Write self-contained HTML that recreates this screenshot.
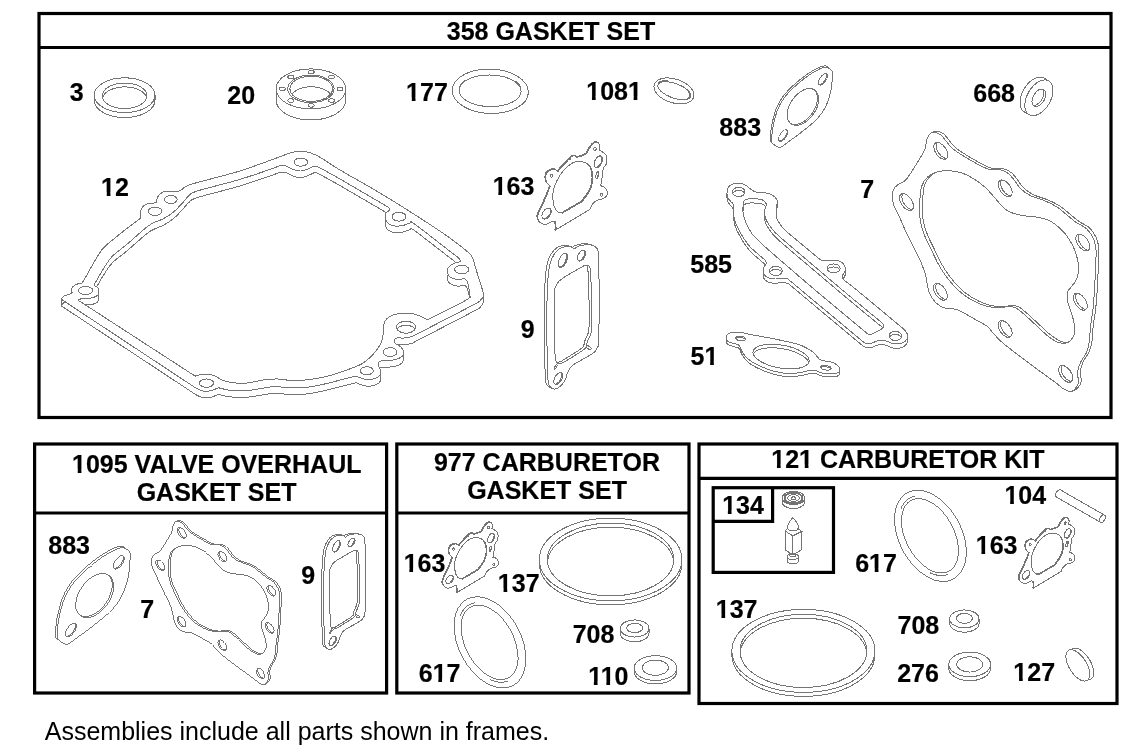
<!DOCTYPE html>
<html><head><meta charset="utf-8">
<style>
html,body{margin:0;padding:0;background:#fff;}
body{width:1134px;height:754px;overflow:hidden;font-family:"Liberation Sans",sans-serif;}
svg{display:block;stroke-width:1;filter:grayscale(1);}
.f{fill:none;stroke:#000;stroke-width:3.2;}
.t,.w{shape-rendering:crispEdges;stroke:#747474;}
.t{fill:none;}
.w{fill:#fff;}
text{font-family:"Liberation Sans",sans-serif;font-weight:bold;font-size:25px;fill:#000;stroke:#000;stroke-width:0.2px;stroke-linejoin:miter;}
text.h{font-size:25px;}
text.n{font-weight:normal;stroke:none;}
#m rect{fill:#fff;stroke:none;}
</style></head><body>
<svg width="1134" height="754" viewBox="0 0 1134 754">
<g class="f">
<rect x="39" y="13.5" width="1072" height="404"/>
<line x1="39" y1="47.5" x2="1111" y2="47.5"/>
<rect x="34.6" y="444" width="352" height="249"/>
<line x1="34.6" y1="513" x2="386.6" y2="513"/>
<rect x="396.8" y="444" width="292.2" height="249"/>
<line x1="396.8" y1="513" x2="689" y2="513"/>
<rect x="699" y="444" width="418" height="259.5"/>
<line x1="699" y1="478.4" x2="1117" y2="478.4"/>
<rect x="713.2" y="487.7" width="120.3" height="84.7"/>
<polyline points="713.2,521.4 772.6,521.4 772.6,487.7"/>
</g>
<g>
<text x="446.75" y="40">358 GASKET SET</text>
<text x="69.65" y="101">3</text>
<text x="227.25" y="104">20</text>
<text x="406.1" y="101">177</text>
<text x="586.25" y="100">1081</text>
<text x="719.35" y="136">883</text>
<text x="973.25" y="102">668</text>
<text x="101.05" y="196">12</text>
<text x="860.25" y="198">7</text>
<text x="492.65" y="195">163</text>
<text x="520.65" y="338">9</text>
<text x="690.25" y="273">585</text>
<text x="690.55" y="365">51</text>
<text text-anchor="middle" x="216.75" y="473">1095 VALVE OVERHAUL</text>
<text text-anchor="middle" x="216.55" y="501">GASKET SET</text>
<text text-anchor="middle" x="546.95" y="471">977 CARBURETOR</text>
<text text-anchor="middle" x="547.05" y="499">GASKET SET</text>
<text text-anchor="middle" x="907.85" y="468">121 CARBURETOR KIT</text>
<text x="48.25" y="554">883</text>
<text x="140.25" y="618">7</text>
<text x="301.15" y="584">9</text>
<text x="403.65" y="572">163</text>
<text x="497.85" y="592">137</text>
<text x="572.65" y="643">708</text>
<text x="418.75" y="682">617</text>
<text x="588.15" y="685">110</text>
<text x="722.15" y="514">134</text>
<text x="855.15" y="572">617</text>
<text x="1004.45" y="504">104</text>
<text x="975.75" y="554">163</text>
<text x="715.75" y="618">137</text>
<text x="897.55" y="634">708</text>
<text x="897.15" y="682">276</text>
<text x="1013.35" y="681">127</text>
<text class="n" x="44.75" y="740">Assemblies include all parts shown in frames.</text>
</g>
<g id="m"><rect x="406.50" y="97.50" width="5.3" height="4.3"/><rect x="415.50" y="97.50" width="5.2" height="4.3"/><rect x="586.65" y="96.50" width="5.3" height="4.3"/><rect x="595.65" y="96.50" width="5.2" height="4.3"/><rect x="628.35" y="96.50" width="5.3" height="4.3"/><rect x="637.35" y="96.50" width="5.2" height="4.3"/><rect x="101.45" y="192.50" width="5.3" height="4.3"/><rect x="110.45" y="192.50" width="5.2" height="4.3"/><rect x="493.05" y="191.50" width="5.3" height="4.3"/><rect x="502.05" y="191.50" width="5.2" height="4.3"/><rect x="704.84" y="361.50" width="5.3" height="4.3"/><rect x="713.84" y="361.50" width="5.2" height="4.3"/><rect x="72.43" y="469.50" width="5.3" height="4.3"/><rect x="81.43" y="469.50" width="5.2" height="4.3"/><rect x="771.65" y="464.50" width="5.3" height="4.3"/><rect x="780.65" y="464.50" width="5.2" height="4.3"/><rect x="799.45" y="464.50" width="5.3" height="4.3"/><rect x="808.45" y="464.50" width="5.2" height="4.3"/><rect x="404.05" y="568.50" width="5.3" height="4.3"/><rect x="413.05" y="568.50" width="5.2" height="4.3"/><rect x="498.25" y="588.50" width="5.3" height="4.3"/><rect x="507.25" y="588.50" width="5.2" height="4.3"/><rect x="433.04" y="678.50" width="5.3" height="4.3"/><rect x="442.04" y="678.50" width="5.2" height="4.3"/><rect x="588.55" y="681.50" width="5.3" height="4.3"/><rect x="597.55" y="681.50" width="5.2" height="4.3"/><rect x="601.07" y="681.50" width="5.3" height="4.3"/><rect x="610.07" y="681.50" width="5.2" height="4.3"/><rect x="722.55" y="510.50" width="5.3" height="4.3"/><rect x="731.55" y="510.50" width="5.2" height="4.3"/><rect x="869.44" y="568.50" width="5.3" height="4.3"/><rect x="878.44" y="568.50" width="5.2" height="4.3"/><rect x="1004.85" y="500.50" width="5.3" height="4.3"/><rect x="1013.85" y="500.50" width="5.2" height="4.3"/><rect x="976.15" y="550.50" width="5.3" height="4.3"/><rect x="985.15" y="550.50" width="5.2" height="4.3"/><rect x="716.15" y="614.50" width="5.3" height="4.3"/><rect x="725.15" y="614.50" width="5.2" height="4.3"/><rect x="1013.75" y="677.50" width="5.3" height="4.3"/><rect x="1022.75" y="677.50" width="5.2" height="4.3"/></g>
<ellipse class="t" cx="124.6" cy="95.2" rx="30.4" ry="17.4"/><path class="t" d="M94.2,95.2 L94.2,100.2 A30.4,17.4 0 0 0 124.6,117.6 A30.4,17.4 0 0 0 155,100.2 L155,95.2"/><ellipse class="t" cx="124.6" cy="95.8" rx="22.3" ry="12.8"/><path class="t" d="M102.56,97.75 A22.3,12.8 0 0 1 146.64,97.75"/><ellipse class="t" cx="310.9" cy="88.9" rx="34.8" ry="20"/><path class="t" d="M276.1,88.9 L276.1,100 A34.8,20 0 0 0 310.9,120 A34.8,20 0 0 0 345.7,100 L345.7,88.9"/><ellipse class="t" cx="310.9" cy="88.8" rx="23.2" ry="13.8"/><ellipse class="t" cx="311.2" cy="88.8" rx="21.3" ry="12.6"/><path class="t" d="M291.9,94.08 L292.98,92.87 L294.27,91.75 L295.77,90.72 L297.44,89.78 L299.27,88.96 L301.25,88.26 L303.34,87.69 L305.52,87.26 L307.76,86.97 L310.05,86.82 L312.35,86.82 L314.64,86.97 L316.88,87.26 L319.06,87.69 L321.15,88.26 L323.13,88.96 L324.96,89.78 L326.63,90.72 L328.13,91.75 L329.42,92.87 L330.5,94.08"/><ellipse class="t" cx="311.2" cy="105.4" rx="3" ry="1.8"/><ellipse class="t" cx="290.84" cy="100.54" rx="3" ry="1.8"/><ellipse class="t" cx="282.4" cy="88.8" rx="3" ry="1.8"/><ellipse class="t" cx="290.84" cy="77.06" rx="3" ry="1.8"/><ellipse class="t" cx="311.2" cy="72.2" rx="3" ry="1.8"/><ellipse class="t" cx="331.56" cy="77.06" rx="3" ry="1.8"/><ellipse class="t" cx="340" cy="88.8" rx="3" ry="1.8"/><ellipse class="t" cx="331.56" cy="100.54" rx="3" ry="1.8"/><ellipse class="t" cx="490.3" cy="91.3" rx="38.1" ry="22.2" transform="rotate(2 490.3 91.3)"/><ellipse class="t" cx="490.1" cy="90.8" rx="31" ry="15.8" transform="rotate(1 490.1 90.8)"/><path class="t" d="M459.3,87.61 L459.84,85.99 L460.71,84.4 L461.9,82.88 L463.4,81.43 L465.19,80.08"/><path class="t" d="M515.34,80.95 L517.08,82.37 L518.53,83.87 L519.66,85.43 L520.48,87.04 L520.95,88.69"/><ellipse class="t" cx="674" cy="90.9" rx="20.7" ry="11.9" transform="rotate(18 674 90.9)"/><ellipse class="t" cx="674.3" cy="90.7" rx="17.3" ry="7.3" transform="rotate(20 674.3 90.7)"/><path class="t" d="M687.95,91.21 L688.63,92.15 L689.14,93.07 L689.48,93.95 L689.63,94.8 L689.61,95.6 L689.41,96.34 L689.03,97.01 L688.48,97.61 L687.76,98.13 L686.88,98.56"/><path class="t" d="M658.32,83.21 L658.83,82.57 L659.51,82.02 L660.36,81.55 L661.37,81.18 L662.53,80.9 L663.82,80.72 L665.22,80.64 L666.74,80.67 L668.33,80.8"/><path class="t" d="M61.5,299.4 l0,6.6"/><path class="t" d="M72.17,292.28 l0,6.6"/><path class="t" d="M71.3,289.9 l0,6.6"/><path class="t" d="M483.38,294.91 l0,6.6"/><path class="t" d="M480.01,300.51 l0,6.6"/><path class="t" d="M480.14,300.86 l0,6.6"/><path class="t" d="M394.57,340.58 l0,6.6"/><path class="t" d="M403.62,352.12 l0,6.6"/><path class="t" d="M378.39,364.12 l0,6.6"/><path class="t" d="M380.75,371.83 l0,6.6"/><g transform="translate(0,6.6)"><path class="w" d="M61.5,299.4C62.17,298.4 61.8,297.45 63.5,296.4C65.2,295.35 70.4,294.18 71.7,293.1C73,292.02 71.17,290.9 71.3,289.9C71.43,288.9 71.63,288.03 72.5,287.1C73.37,286.17 74.91,284.97 76.5,284.3C78.09,283.63 80.2,283.5 82.05,283.1C83.7,280.37 84.84,278.68 87,274.9C89.16,271.12 92.35,264.8 95,260.4C97.65,256 99.82,252.03 102.9,248.5C105.98,244.97 109.53,242.52 113.5,239.2C117.47,235.88 122.28,232.02 126.7,228.6C131.12,225.18 135.6,222 140.05,218.7C140.17,216.47 139.98,213.95 140.4,212C140.82,210.05 141.54,208.31 142.6,207C143.66,205.69 144.52,204.85 146.75,204.15C148.98,203.45 152.92,203.25 156,202.8C156.53,200.87 156.77,198.58 157.6,197C158.43,195.42 159.6,194.28 161,193.3C162.4,192.32 163.07,191.47 166,191.1C168.93,190.73 175.38,191.8 178.6,191.1C181.82,190.4 182.8,188.16 185.3,186.9C187.8,185.64 184.95,186.07 193.6,183.55C202.25,181.03 225.47,175.29 237.2,171.8C248.93,168.31 255.35,165.67 264,162.6C272.65,159.53 283.52,155.27 289.1,153.4C294.68,151.53 294.98,151.73 297.5,151.4C300.02,151.07 301.97,151.12 304.2,151.4C306.43,151.68 308.27,152.12 310.9,153.1C313.53,154.07 315.18,154.45 320,157.25C324.82,160.05 329.87,163.97 339.8,169.9C349.73,175.83 366.32,184.83 379.6,192.8C392.88,200.77 407.87,210.22 419.5,217.7C431.13,225.17 441.43,232 449.4,237.65C457.37,243.3 463.48,248.27 467.3,251.6C471.12,254.93 470.63,253.95 472.3,257.6C473.97,261.25 475.47,267.45 477.3,273.5C479.13,279.55 482.78,289.5 483.3,293.9C483.82,298.3 482.05,298.08 480.4,299.9C478.75,301.72 483.53,299.33 473.4,304.8C463.27,310.27 429.9,327.38 419.6,332.7C409.3,338.02 414.27,335.8 411.6,336.7C408.93,337.6 405.93,337.93 403.6,338.1C401.28,338.27 399.63,337.83 397.65,337.7C396.67,338.37 395.03,338.7 394.7,339.7C394.37,340.7 394.67,342.53 395.65,343.7C396.63,344.87 399.28,345.37 400.6,346.7C401.93,348.03 403.43,350.04 403.6,351.7C403.77,353.36 402.93,355.33 401.6,356.65C400.28,357.97 397.97,358.94 395.65,359.6C393.33,360.26 390.02,360.43 387.7,360.6C385.38,360.77 383.7,360.6 381.7,360.6C380.7,361.27 379.2,361.6 378.7,362.6C378.2,363.6 378.37,365.27 378.7,366.6C379.03,367.93 380.53,369.1 380.7,370.6C380.87,372.1 380.7,374.27 379.7,375.6C378.7,376.93 376.68,377.93 374.7,378.6C372.72,379.27 369.92,379.63 367.8,379.6C365.68,379.57 363.98,378.98 362,378.4C360.02,377.82 357.93,376.87 355.9,376.1C350.33,377.5 344.78,378.9 339.2,380.3C333.62,381.7 327.98,383.3 322.4,384.5C316.82,385.7 311.28,386.95 305.7,387.5C300.12,388.05 293.1,387.88 288.9,387.8C284.7,387.72 283.02,387.22 280.5,387C277.98,386.78 277.15,386.23 273.8,386.5C270.45,386.77 264.87,387.96 260.4,388.65C255.93,389.34 252.02,390.38 247,390.65C241.98,390.92 235.05,390.77 230.3,390.3C225.55,389.83 222.43,388.63 218.5,387.8C216,388.75 213.5,390.08 211,390.65C208.5,391.22 205.88,391.53 203.5,391.2C201.12,390.87 199,389.5 196.75,388.65C151.67,358.9 106.58,329.15 61.5,299.4Z"/></g><path class="w" d="M61.5,299.4C62.17,298.4 61.8,297.45 63.5,296.4C65.2,295.35 70.4,294.18 71.7,293.1C73,292.02 71.17,290.9 71.3,289.9C71.43,288.9 71.63,288.03 72.5,287.1C73.37,286.17 74.91,284.97 76.5,284.3C78.09,283.63 80.2,283.5 82.05,283.1C83.7,280.37 84.84,278.68 87,274.9C89.16,271.12 92.35,264.8 95,260.4C97.65,256 99.82,252.03 102.9,248.5C105.98,244.97 109.53,242.52 113.5,239.2C117.47,235.88 122.28,232.02 126.7,228.6C131.12,225.18 135.6,222 140.05,218.7C140.17,216.47 139.98,213.95 140.4,212C140.82,210.05 141.54,208.31 142.6,207C143.66,205.69 144.52,204.85 146.75,204.15C148.98,203.45 152.92,203.25 156,202.8C156.53,200.87 156.77,198.58 157.6,197C158.43,195.42 159.6,194.28 161,193.3C162.4,192.32 163.07,191.47 166,191.1C168.93,190.73 175.38,191.8 178.6,191.1C181.82,190.4 182.8,188.16 185.3,186.9C187.8,185.64 184.95,186.07 193.6,183.55C202.25,181.03 225.47,175.29 237.2,171.8C248.93,168.31 255.35,165.67 264,162.6C272.65,159.53 283.52,155.27 289.1,153.4C294.68,151.53 294.98,151.73 297.5,151.4C300.02,151.07 301.97,151.12 304.2,151.4C306.43,151.68 308.27,152.12 310.9,153.1C313.53,154.07 315.18,154.45 320,157.25C324.82,160.05 329.87,163.97 339.8,169.9C349.73,175.83 366.32,184.83 379.6,192.8C392.88,200.77 407.87,210.22 419.5,217.7C431.13,225.17 441.43,232 449.4,237.65C457.37,243.3 463.48,248.27 467.3,251.6C471.12,254.93 470.63,253.95 472.3,257.6C473.97,261.25 475.47,267.45 477.3,273.5C479.13,279.55 482.78,289.5 483.3,293.9C483.82,298.3 482.05,298.08 480.4,299.9C478.75,301.72 483.53,299.33 473.4,304.8C463.27,310.27 429.9,327.38 419.6,332.7C409.3,338.02 414.27,335.8 411.6,336.7C408.93,337.6 405.93,337.93 403.6,338.1C401.28,338.27 399.63,337.83 397.65,337.7C396.67,338.37 395.03,338.7 394.7,339.7C394.37,340.7 394.67,342.53 395.65,343.7C396.63,344.87 399.28,345.37 400.6,346.7C401.93,348.03 403.43,350.04 403.6,351.7C403.77,353.36 402.93,355.33 401.6,356.65C400.28,357.97 397.97,358.94 395.65,359.6C393.33,360.26 390.02,360.43 387.7,360.6C385.38,360.77 383.7,360.6 381.7,360.6C380.7,361.27 379.2,361.6 378.7,362.6C378.2,363.6 378.37,365.27 378.7,366.6C379.03,367.93 380.53,369.1 380.7,370.6C380.87,372.1 380.7,374.27 379.7,375.6C378.7,376.93 376.68,377.93 374.7,378.6C372.72,379.27 369.92,379.63 367.8,379.6C365.68,379.57 363.98,378.98 362,378.4C360.02,377.82 357.93,376.87 355.9,376.1C350.33,377.5 344.78,378.9 339.2,380.3C333.62,381.7 327.98,383.3 322.4,384.5C316.82,385.7 311.28,386.95 305.7,387.5C300.12,388.05 293.1,387.88 288.9,387.8C284.7,387.72 283.02,387.22 280.5,387C277.98,386.78 277.15,386.23 273.8,386.5C270.45,386.77 264.87,387.96 260.4,388.65C255.93,389.34 252.02,390.38 247,390.65C241.98,390.92 235.05,390.77 230.3,390.3C225.55,389.83 222.43,388.63 218.5,387.8C216,388.75 213.5,390.08 211,390.65C208.5,391.22 205.88,391.53 203.5,391.2C201.12,390.87 199,389.5 196.75,388.65C151.67,358.9 106.58,329.15 61.5,299.4Z"/><clipPath id="c1"><path d="M78.1,300.2C79.4,299.67 80.02,298.93 82,298.6C83.98,298.27 87.6,298.59 90,298.2C92.4,297.81 94.94,297.1 96.4,296.25C97.86,295.4 98.48,294.43 98.75,293.1C99.02,291.78 98.79,289.63 98,288.3C97.21,286.97 95.33,286.17 94,285.1C96.97,279.93 99.87,274.38 102.9,269.6C105.93,264.82 108.23,260.58 112.2,256.4C116.17,252.22 120.94,249.38 126.7,244.5C132.46,239.62 142.02,230.83 146.75,227.1C151.48,223.37 152.31,223.5 155.1,222.1C157.89,220.7 160.43,220.38 163.5,218.7C166.57,217.02 170.48,214.51 173.55,212C176.62,209.49 179.39,206.3 181.9,203.65C184.41,201 186.08,198.19 188.6,196.1C191.12,194.01 188.9,193.75 197,191.1C205.1,188.45 226.03,183.47 237.2,180.2C248.37,176.93 256.74,173.95 264,171.5C271.26,169.05 275.17,167.5 280.75,165.5C282.43,165.67 283.57,165.28 285.8,166C288.03,166.72 291.64,168.97 294.15,169.8C296.66,170.63 298.59,171.12 300.85,171C303.11,170.88 305.59,169.87 307.7,169.1C309.81,168.33 311.57,167.3 313.5,166.4C315,166.6 313.62,164.92 318,167C322.38,169.08 328.2,172.27 339.8,178.9C351.4,185.53 371.67,197.5 387.6,206.8C388.27,207.77 389.93,208.55 389.6,209.7C389.27,210.85 386.27,212.03 385.6,213.7C384.93,215.37 385.1,218.03 385.6,219.7C386.1,221.37 386.93,222.63 388.6,223.7C390.27,224.77 393.11,225.83 395.6,226.1C398.09,226.37 401.07,225.87 403.55,225.3C406.03,224.73 408.18,223.57 410.5,222.7C412.17,223.37 407.35,218.72 415.5,224.7C423.65,230.68 444.77,247.3 459.4,258.6C459.7,259.6 461.3,260.77 460.3,261.6C459.3,262.43 455.38,262.62 453.4,263.6C451.42,264.58 449.4,266.02 448.4,267.5C447.4,268.98 447.07,270.88 447.4,272.5C447.73,274.12 448.73,276.03 450.4,277.2C452.07,278.37 455.03,279.27 457.4,279.5C459.77,279.73 462.2,278.9 464.6,278.6C465.53,279.7 466.6,279.35 467.4,281.9C468.2,284.45 469.57,290.9 469.4,293.9C469.23,296.9 473.38,295.58 466.4,299.9C459.42,304.22 440.47,313.17 427.5,319.8C425.53,318.8 423.92,317.8 421.6,316.8C419.28,315.8 416.6,314.4 413.6,313.8C410.6,313.2 406.92,313.03 403.6,313.2C400.28,313.37 396.52,313.87 393.7,314.8C390.88,315.73 388.37,317.13 386.7,318.8C385.03,320.47 384.27,322.32 383.7,324.8C383.13,327.28 383.8,330.55 383.3,333.7C382.8,336.85 382.3,340.37 380.7,343.7C379.1,347.03 376.52,350.55 373.7,353.7C370.88,356.85 366.77,360.47 363.8,362.6C360.83,364.73 360,364.82 355.9,366.5C351.8,368.18 344.78,370.88 339.2,372.7C333.62,374.52 328.55,376.13 322.4,377.4C316.25,378.67 307.88,379.82 302.3,380.3C296.72,380.78 292.53,380.5 288.9,380.3C285.27,380.1 284.13,379.25 280.5,379.1C276.87,378.95 271.28,378.98 267.1,379.4C262.92,379.82 259.3,380.95 255.4,381.6C251.5,382.25 247.88,383.18 243.7,383.3C239.52,383.42 233.93,382.87 230.3,382.3C226.67,381.73 224.42,380.93 221.9,379.9C219.38,378.87 217.43,377.02 215.2,376.1C212.97,375.18 210.73,374.68 208.5,374.4C206.27,374.12 204.03,374.12 201.8,374.4C199.57,374.68 197.33,375.53 195.1,376.1C156.1,350.8 117.1,325.5 78.1,300.2Z"/></clipPath><path class="w" d="M78.1,300.2C79.4,299.67 80.02,298.93 82,298.6C83.98,298.27 87.6,298.59 90,298.2C92.4,297.81 94.94,297.1 96.4,296.25C97.86,295.4 98.48,294.43 98.75,293.1C99.02,291.78 98.79,289.63 98,288.3C97.21,286.97 95.33,286.17 94,285.1C96.97,279.93 99.87,274.38 102.9,269.6C105.93,264.82 108.23,260.58 112.2,256.4C116.17,252.22 120.94,249.38 126.7,244.5C132.46,239.62 142.02,230.83 146.75,227.1C151.48,223.37 152.31,223.5 155.1,222.1C157.89,220.7 160.43,220.38 163.5,218.7C166.57,217.02 170.48,214.51 173.55,212C176.62,209.49 179.39,206.3 181.9,203.65C184.41,201 186.08,198.19 188.6,196.1C191.12,194.01 188.9,193.75 197,191.1C205.1,188.45 226.03,183.47 237.2,180.2C248.37,176.93 256.74,173.95 264,171.5C271.26,169.05 275.17,167.5 280.75,165.5C282.43,165.67 283.57,165.28 285.8,166C288.03,166.72 291.64,168.97 294.15,169.8C296.66,170.63 298.59,171.12 300.85,171C303.11,170.88 305.59,169.87 307.7,169.1C309.81,168.33 311.57,167.3 313.5,166.4C315,166.6 313.62,164.92 318,167C322.38,169.08 328.2,172.27 339.8,178.9C351.4,185.53 371.67,197.5 387.6,206.8C388.27,207.77 389.93,208.55 389.6,209.7C389.27,210.85 386.27,212.03 385.6,213.7C384.93,215.37 385.1,218.03 385.6,219.7C386.1,221.37 386.93,222.63 388.6,223.7C390.27,224.77 393.11,225.83 395.6,226.1C398.09,226.37 401.07,225.87 403.55,225.3C406.03,224.73 408.18,223.57 410.5,222.7C412.17,223.37 407.35,218.72 415.5,224.7C423.65,230.68 444.77,247.3 459.4,258.6C459.7,259.6 461.3,260.77 460.3,261.6C459.3,262.43 455.38,262.62 453.4,263.6C451.42,264.58 449.4,266.02 448.4,267.5C447.4,268.98 447.07,270.88 447.4,272.5C447.73,274.12 448.73,276.03 450.4,277.2C452.07,278.37 455.03,279.27 457.4,279.5C459.77,279.73 462.2,278.9 464.6,278.6C465.53,279.7 466.6,279.35 467.4,281.9C468.2,284.45 469.57,290.9 469.4,293.9C469.23,296.9 473.38,295.58 466.4,299.9C459.42,304.22 440.47,313.17 427.5,319.8C425.53,318.8 423.92,317.8 421.6,316.8C419.28,315.8 416.6,314.4 413.6,313.8C410.6,313.2 406.92,313.03 403.6,313.2C400.28,313.37 396.52,313.87 393.7,314.8C390.88,315.73 388.37,317.13 386.7,318.8C385.03,320.47 384.27,322.32 383.7,324.8C383.13,327.28 383.8,330.55 383.3,333.7C382.8,336.85 382.3,340.37 380.7,343.7C379.1,347.03 376.52,350.55 373.7,353.7C370.88,356.85 366.77,360.47 363.8,362.6C360.83,364.73 360,364.82 355.9,366.5C351.8,368.18 344.78,370.88 339.2,372.7C333.62,374.52 328.55,376.13 322.4,377.4C316.25,378.67 307.88,379.82 302.3,380.3C296.72,380.78 292.53,380.5 288.9,380.3C285.27,380.1 284.13,379.25 280.5,379.1C276.87,378.95 271.28,378.98 267.1,379.4C262.92,379.82 259.3,380.95 255.4,381.6C251.5,382.25 247.88,383.18 243.7,383.3C239.52,383.42 233.93,382.87 230.3,382.3C226.67,381.73 224.42,380.93 221.9,379.9C219.38,378.87 217.43,377.02 215.2,376.1C212.97,375.18 210.73,374.68 208.5,374.4C206.27,374.12 204.03,374.12 201.8,374.4C199.57,374.68 197.33,375.53 195.1,376.1C156.1,350.8 117.1,325.5 78.1,300.2Z"/><g clip-path="url(#c1)"><g transform="translate(0,6.6)"><path class="t" d="M78.1,300.2C79.4,299.67 80.02,298.93 82,298.6C83.98,298.27 87.6,298.59 90,298.2C92.4,297.81 94.94,297.1 96.4,296.25C97.86,295.4 98.48,294.43 98.75,293.1C99.02,291.78 98.79,289.63 98,288.3C97.21,286.97 95.33,286.17 94,285.1C96.97,279.93 99.87,274.38 102.9,269.6C105.93,264.82 108.23,260.58 112.2,256.4C116.17,252.22 120.94,249.38 126.7,244.5C132.46,239.62 142.02,230.83 146.75,227.1C151.48,223.37 152.31,223.5 155.1,222.1C157.89,220.7 160.43,220.38 163.5,218.7C166.57,217.02 170.48,214.51 173.55,212C176.62,209.49 179.39,206.3 181.9,203.65C184.41,201 186.08,198.19 188.6,196.1C191.12,194.01 188.9,193.75 197,191.1C205.1,188.45 226.03,183.47 237.2,180.2C248.37,176.93 256.74,173.95 264,171.5C271.26,169.05 275.17,167.5 280.75,165.5C282.43,165.67 283.57,165.28 285.8,166C288.03,166.72 291.64,168.97 294.15,169.8C296.66,170.63 298.59,171.12 300.85,171C303.11,170.88 305.59,169.87 307.7,169.1C309.81,168.33 311.57,167.3 313.5,166.4C315,166.6 313.62,164.92 318,167C322.38,169.08 328.2,172.27 339.8,178.9C351.4,185.53 371.67,197.5 387.6,206.8C388.27,207.77 389.93,208.55 389.6,209.7C389.27,210.85 386.27,212.03 385.6,213.7C384.93,215.37 385.1,218.03 385.6,219.7C386.1,221.37 386.93,222.63 388.6,223.7C390.27,224.77 393.11,225.83 395.6,226.1C398.09,226.37 401.07,225.87 403.55,225.3C406.03,224.73 408.18,223.57 410.5,222.7C412.17,223.37 407.35,218.72 415.5,224.7C423.65,230.68 444.77,247.3 459.4,258.6C459.7,259.6 461.3,260.77 460.3,261.6C459.3,262.43 455.38,262.62 453.4,263.6C451.42,264.58 449.4,266.02 448.4,267.5C447.4,268.98 447.07,270.88 447.4,272.5C447.73,274.12 448.73,276.03 450.4,277.2C452.07,278.37 455.03,279.27 457.4,279.5C459.77,279.73 462.2,278.9 464.6,278.6C465.53,279.7 466.6,279.35 467.4,281.9C468.2,284.45 469.57,290.9 469.4,293.9C469.23,296.9 473.38,295.58 466.4,299.9C459.42,304.22 440.47,313.17 427.5,319.8C425.53,318.8 423.92,317.8 421.6,316.8C419.28,315.8 416.6,314.4 413.6,313.8C410.6,313.2 406.92,313.03 403.6,313.2C400.28,313.37 396.52,313.87 393.7,314.8C390.88,315.73 388.37,317.13 386.7,318.8C385.03,320.47 384.27,322.32 383.7,324.8C383.13,327.28 383.8,330.55 383.3,333.7C382.8,336.85 382.3,340.37 380.7,343.7C379.1,347.03 376.52,350.55 373.7,353.7C370.88,356.85 366.77,360.47 363.8,362.6C360.83,364.73 360,364.82 355.9,366.5C351.8,368.18 344.78,370.88 339.2,372.7C333.62,374.52 328.55,376.13 322.4,377.4C316.25,378.67 307.88,379.82 302.3,380.3C296.72,380.78 292.53,380.5 288.9,380.3C285.27,380.1 284.13,379.25 280.5,379.1C276.87,378.95 271.28,378.98 267.1,379.4C262.92,379.82 259.3,380.95 255.4,381.6C251.5,382.25 247.88,383.18 243.7,383.3C239.52,383.42 233.93,382.87 230.3,382.3C226.67,381.73 224.42,380.93 221.9,379.9C219.38,378.87 217.43,377.02 215.2,376.1C212.97,375.18 210.73,374.68 208.5,374.4C206.27,374.12 204.03,374.12 201.8,374.4C199.57,374.68 197.33,375.53 195.1,376.1C156.1,350.8 117.1,325.5 78.1,300.2Z"/></g></g><ellipse class="t" cx="85.6" cy="290.5" rx="7.2" ry="4.1"/><ellipse class="t" cx="155.1" cy="211.2" rx="6.7" ry="4.2"/><ellipse class="t" cx="170.7" cy="199.5" rx="6.4" ry="4"/><ellipse class="t" cx="300.85" cy="162.1" rx="6.7" ry="4.1"/><ellipse class="t" cx="399" cy="216.7" rx="7" ry="4.4"/><ellipse class="t" cx="461.7" cy="269.5" rx="7" ry="4.4"/><ellipse class="t" cx="390.1" cy="352.1" rx="7" ry="4.4"/><ellipse class="t" cx="366.8" cy="370.8" rx="6.6" ry="4"/><ellipse class="t" cx="206.5" cy="383.1" rx="7" ry="4.2"/><clipPath id="c2"><ellipse cx="406" cy="327.2" rx="9.6" ry="6"/></clipPath><ellipse class="t" cx="406" cy="327.2" rx="9.6" ry="6"/><g clip-path="url(#c2)"><ellipse class="t" cx="406" cy="331.2" rx="9.6" ry="6"/></g><g transform="translate(530,140) scale(0.13263)" style="stroke-width:7.54"><path class="t" d="M514.8,21.45 l-5.5,-4"/><path class="t" d="M522.5,76.8 l-5.5,-4"/><path class="t" d="M558.78,99.66 l-5.5,-4"/><path class="t" d="M532.5,346.8 l-5.5,-4"/><path class="t" d="M562.5,356.8 l-5.5,-4"/><path class="t" d="M190.3,679.5 l-5.5,-4"/><path class="t" d="M198.03,673.66 l-5.5,-4"/><path class="t" d="M197.5,673.8 l-5.5,-4"/><path class="t" d="M192.5,616.8 l-5.5,-4"/><path class="t" d="M80.94,625.11 l-5.5,-4"/><path class="t" d="M200.62,228.05 l-5.5,-4"/><path class="t" d="M208.45,234.07 l-5.5,-4"/><path class="t" d="M344.78,120.92 l-5.5,-4"/><path class="t" d="M347.5,133.8 l-5.5,-4"/><g transform="translate(-5.5,-4)"><path class="w" d="M472.5,31.8C481.67,22.63 490,18.13 497.5,16.8C505,15.47 512.5,18.8 517.5,23.8C522.5,28.8 526.67,37.97 527.5,46.8C528.33,55.63 524.17,66.8 522.5,76.8C530.83,81.8 539.17,85.63 547.5,91.8C555.83,97.97 567,103.8 572.5,113.8C578,123.8 580.5,139.63 580.5,151.8C580.5,163.97 576.83,177.13 572.5,186.8C568.17,196.47 558.67,198.97 554.5,209.8C550.33,220.63 550.33,233.13 547.5,251.8C544.67,270.47 540,305.97 537.5,321.8C535,337.63 534.17,338.47 532.5,346.8C542.5,350.13 554.17,350.13 562.5,356.8C570.83,363.47 580,375.97 582.5,386.8C585,397.63 582.5,412.63 577.5,421.8C572.5,430.97 560.83,437.63 552.5,441.8C544.17,445.97 535.83,444.3 527.5,446.8C519.17,449.3 511.67,450.97 502.5,456.8C493.33,462.63 480.83,470.97 472.5,481.8C464.17,492.63 459.17,508.47 452.5,521.8C372.5,570.13 255,641.47 212.5,666.8C170,692.13 202.5,671.47 197.5,673.8C195.83,654.8 194.17,635.8 192.5,616.8C185.83,615.13 182.5,609.3 172.5,611.8C162.5,614.3 145,628.13 132.5,631.8C120,635.47 108.33,637.13 97.5,633.8C86.67,630.47 74.17,621.3 67.5,611.8C60.83,602.3 56.67,590.13 57.5,576.8C58.33,563.47 65,549.3 72.5,531.8C80,514.3 92.5,493.47 102.5,471.8C112.5,450.13 124.17,422.63 132.5,401.8C140.83,380.97 145.83,365.13 152.5,346.8C144.17,338.47 133.33,332.63 127.5,321.8C121.67,310.97 117.5,294.3 117.5,281.8C117.5,269.3 121.67,255.97 127.5,246.8C133.33,237.63 142.5,230.97 152.5,226.8C162.5,222.63 177.5,220.13 187.5,221.8C197.5,223.47 204.17,231.8 212.5,236.8C219.17,228.47 220,225.97 232.5,211.8C245,197.63 274.17,165.97 287.5,151.8C300.83,137.63 303.33,132.13 312.5,126.8C321.67,121.47 336.67,118.63 342.5,119.8C348.33,120.97 345.83,129.13 347.5,133.8C372.5,124.8 406.67,117.13 422.5,106.8C438.33,96.47 434.17,84.3 442.5,71.8C450.83,59.3 463.33,40.97 472.5,31.8Z"/></g><path class="w" d="M472.5,31.8C481.67,22.63 490,18.13 497.5,16.8C505,15.47 512.5,18.8 517.5,23.8C522.5,28.8 526.67,37.97 527.5,46.8C528.33,55.63 524.17,66.8 522.5,76.8C530.83,81.8 539.17,85.63 547.5,91.8C555.83,97.97 567,103.8 572.5,113.8C578,123.8 580.5,139.63 580.5,151.8C580.5,163.97 576.83,177.13 572.5,186.8C568.17,196.47 558.67,198.97 554.5,209.8C550.33,220.63 550.33,233.13 547.5,251.8C544.67,270.47 540,305.97 537.5,321.8C535,337.63 534.17,338.47 532.5,346.8C542.5,350.13 554.17,350.13 562.5,356.8C570.83,363.47 580,375.97 582.5,386.8C585,397.63 582.5,412.63 577.5,421.8C572.5,430.97 560.83,437.63 552.5,441.8C544.17,445.97 535.83,444.3 527.5,446.8C519.17,449.3 511.67,450.97 502.5,456.8C493.33,462.63 480.83,470.97 472.5,481.8C464.17,492.63 459.17,508.47 452.5,521.8C372.5,570.13 255,641.47 212.5,666.8C170,692.13 202.5,671.47 197.5,673.8C195.83,654.8 194.17,635.8 192.5,616.8C185.83,615.13 182.5,609.3 172.5,611.8C162.5,614.3 145,628.13 132.5,631.8C120,635.47 108.33,637.13 97.5,633.8C86.67,630.47 74.17,621.3 67.5,611.8C60.83,602.3 56.67,590.13 57.5,576.8C58.33,563.47 65,549.3 72.5,531.8C80,514.3 92.5,493.47 102.5,471.8C112.5,450.13 124.17,422.63 132.5,401.8C140.83,380.97 145.83,365.13 152.5,346.8C144.17,338.47 133.33,332.63 127.5,321.8C121.67,310.97 117.5,294.3 117.5,281.8C117.5,269.3 121.67,255.97 127.5,246.8C133.33,237.63 142.5,230.97 152.5,226.8C162.5,222.63 177.5,220.13 187.5,221.8C197.5,223.47 204.17,231.8 212.5,236.8C219.17,228.47 220,225.97 232.5,211.8C245,197.63 274.17,165.97 287.5,151.8C300.83,137.63 303.33,132.13 312.5,126.8C321.67,121.47 336.67,118.63 342.5,119.8C348.33,120.97 345.83,129.13 347.5,133.8C372.5,124.8 406.67,117.13 422.5,106.8C438.33,96.47 434.17,84.3 442.5,71.8C450.83,59.3 463.33,40.97 472.5,31.8Z"/><clipPath id="c3"><path d="M341,165.7C357.67,162.37 383.5,161.53 401,165.7C418.5,169.87 434.67,178.2 446,190.7C457.33,203.2 464.83,219.03 469,240.7C473.17,262.37 474,297.37 471,320.7C468,344.03 461,360.7 451,380.7C441,400.7 421,426.53 411,440.7C401,454.87 397.67,457.37 391,465.7C342.67,494.03 294.33,522.37 246,550.7C236,549.03 226,552.37 216,545.7C206,539.03 193.17,526.53 186,510.7C178.83,494.87 174.67,472.37 173,450.7C171.33,429.03 171.33,404.03 176,380.7C180.67,357.37 188.5,335.7 201,310.7C213.5,285.7 234.33,251.53 251,230.7C267.67,209.87 286,196.53 301,185.7C316,174.87 324.33,169.03 341,165.7Z"/></clipPath><path class="w" d="M341,165.7C357.67,162.37 383.5,161.53 401,165.7C418.5,169.87 434.67,178.2 446,190.7C457.33,203.2 464.83,219.03 469,240.7C473.17,262.37 474,297.37 471,320.7C468,344.03 461,360.7 451,380.7C441,400.7 421,426.53 411,440.7C401,454.87 397.67,457.37 391,465.7C342.67,494.03 294.33,522.37 246,550.7C236,549.03 226,552.37 216,545.7C206,539.03 193.17,526.53 186,510.7C178.83,494.87 174.67,472.37 173,450.7C171.33,429.03 171.33,404.03 176,380.7C180.67,357.37 188.5,335.7 201,310.7C213.5,285.7 234.33,251.53 251,230.7C267.67,209.87 286,196.53 301,185.7C316,174.87 324.33,169.03 341,165.7Z"/><g clip-path="url(#c3)"><g transform="translate(-5.5,-4)"><path class="t" d="M341,165.7C357.67,162.37 383.5,161.53 401,165.7C418.5,169.87 434.67,178.2 446,190.7C457.33,203.2 464.83,219.03 469,240.7C473.17,262.37 474,297.37 471,320.7C468,344.03 461,360.7 451,380.7C441,400.7 421,426.53 411,440.7C401,454.87 397.67,457.37 391,465.7C342.67,494.03 294.33,522.37 246,550.7C236,549.03 226,552.37 216,545.7C206,539.03 193.17,526.53 186,510.7C178.83,494.87 174.67,472.37 173,450.7C171.33,429.03 171.33,404.03 176,380.7C180.67,357.37 188.5,335.7 201,310.7C213.5,285.7 234.33,251.53 251,230.7C267.67,209.87 286,196.53 301,185.7C316,174.87 324.33,169.03 341,165.7Z"/></g></g><clipPath id="c4"><ellipse cx="515" cy="165" rx="27" ry="48" transform="rotate(25 515 165)"/></clipPath><ellipse class="t" cx="515" cy="165" rx="27" ry="48" transform="rotate(25 515 165)"/><g clip-path="url(#c4)"><ellipse class="t" cx="510" cy="162" rx="27" ry="48" transform="rotate(25 510 162)"/></g><clipPath id="c5"><ellipse cx="508" cy="265" rx="10" ry="27" transform="rotate(15 508 265)"/></clipPath><ellipse class="t" cx="508" cy="265" rx="10" ry="27" transform="rotate(15 508 265)"/><g clip-path="url(#c5)"><ellipse class="t" cx="504" cy="263" rx="10" ry="27" transform="rotate(15 504 263)"/></g><clipPath id="c6"><ellipse cx="125" cy="555" rx="29" ry="46" transform="rotate(35 125 555)"/></clipPath><ellipse class="t" cx="125" cy="555" rx="29" ry="46" transform="rotate(35 125 555)"/><g clip-path="url(#c6)"><ellipse class="t" cx="120" cy="552" rx="29" ry="46" transform="rotate(35 120 552)"/></g><ellipse class="t" cx="490" cy="68" rx="9" ry="10.8" transform="rotate(20 490 68)"/><ellipse class="t" cx="162" cy="270" rx="9" ry="10.8" transform="rotate(20 162 270)"/><ellipse class="t" cx="540" cy="412" rx="9" ry="10.8" transform="rotate(20 540 412)"/><ellipse class="t" cx="300" cy="142" rx="7" ry="8.4" transform="rotate(20 300 142)"/></g><g transform="translate(530,238) scale(0.21236)" style="stroke-width:4.71"><path class="t" d="M196.5,42.55 l-12,-5"/><path class="t" d="M208,52 l-12,-5"/><path class="t" d="M301.36,37.22 l-12,-5"/><path class="t" d="M107.59,710.44 l-12,-5"/><g transform="translate(-12,-5)"><path class="w" d="M85,185C87.5,155 90,138.33 95,120C100,101.67 107.5,86.67 115,75C122.5,63.33 130.83,55.83 140,50C149.17,44.17 160.83,41.33 170,40C179.17,38.67 188.67,40 195,42C201.33,44 203.67,48.67 208,52C213.67,48 216.33,43.33 225,40C233.67,36.67 248.33,32.83 260,32C271.67,31.17 285.83,32.33 295,35C304.17,37.67 310.5,41.33 315,48C319.5,54.67 320.33,49.67 322,75C323.67,100.33 324.5,145.83 325,200C325.5,254.17 325.5,350 325,400C324.5,450 323.67,480 322,500C320.33,520 318.67,513.33 315,520C311.33,526.67 309.17,532.5 300,540C290.83,547.5 274.17,556.67 260,565C245.83,573.33 226.67,582.5 215,590C203.33,597.5 196.67,601.67 190,610C183.33,618.33 179.17,630 175,640C170.83,650 170.83,660 165,670C159.17,680 148.33,693 140,700C131.67,707 122.5,712 115,712C107.5,712 100,707 95,700C90,693 87.5,703.33 85,670C82.5,636.67 80.83,561.67 80,500C79.17,438.33 79.17,352.5 80,300C80.83,247.5 82.5,215 85,185Z"/></g><path class="w" d="M85,185C87.5,155 90,138.33 95,120C100,101.67 107.5,86.67 115,75C122.5,63.33 130.83,55.83 140,50C149.17,44.17 160.83,41.33 170,40C179.17,38.67 188.67,40 195,42C201.33,44 203.67,48.67 208,52C213.67,48 216.33,43.33 225,40C233.67,36.67 248.33,32.83 260,32C271.67,31.17 285.83,32.33 295,35C304.17,37.67 310.5,41.33 315,48C319.5,54.67 320.33,49.67 322,75C323.67,100.33 324.5,145.83 325,200C325.5,254.17 325.5,350 325,400C324.5,450 323.67,480 322,500C320.33,520 318.67,513.33 315,520C311.33,526.67 309.17,532.5 300,540C290.83,547.5 274.17,556.67 260,565C245.83,573.33 226.67,582.5 215,590C203.33,597.5 196.67,601.67 190,610C183.33,618.33 179.17,630 175,640C170.83,650 170.83,660 165,670C159.17,680 148.33,693 140,700C131.67,707 122.5,712 115,712C107.5,712 100,707 95,700C90,693 87.5,703.33 85,670C82.5,636.67 80.83,561.67 80,500C79.17,438.33 79.17,352.5 80,300C80.83,247.5 82.5,215 85,185Z"/><clipPath id="c7"><path d="M120,230C123.33,220.83 128.33,212.5 135,205C141.67,197.5 151.67,191.67 160,185C191.67,166.67 223.33,148.33 255,130C260,129 265.83,126.17 270,127C274.17,127.83 277.5,129.5 280,135C282.5,140.5 283.33,132.5 285,160C286.67,187.5 289.17,256.67 290,300C290.83,343.33 290.83,394.17 290,420C289.17,445.83 288.33,443.33 285,455C281.67,466.67 273.33,480 270,490C266.67,500 266.67,506.67 265,515C256.67,521.67 257.5,523.33 240,535C222.5,546.67 186.67,568.33 160,585C151.67,587.33 141.33,592.83 135,592C128.67,591.17 124.83,587 122,580C119.17,573 119.17,580 118,550C116.83,520 115.5,448.33 115,400C114.5,351.67 114.17,288.33 115,260C115.83,231.67 116.67,239.17 120,230Z"/></clipPath><path class="w" d="M120,230C123.33,220.83 128.33,212.5 135,205C141.67,197.5 151.67,191.67 160,185C191.67,166.67 223.33,148.33 255,130C260,129 265.83,126.17 270,127C274.17,127.83 277.5,129.5 280,135C282.5,140.5 283.33,132.5 285,160C286.67,187.5 289.17,256.67 290,300C290.83,343.33 290.83,394.17 290,420C289.17,445.83 288.33,443.33 285,455C281.67,466.67 273.33,480 270,490C266.67,500 266.67,506.67 265,515C256.67,521.67 257.5,523.33 240,535C222.5,546.67 186.67,568.33 160,585C151.67,587.33 141.33,592.83 135,592C128.67,591.17 124.83,587 122,580C119.17,573 119.17,580 118,550C116.83,520 115.5,448.33 115,400C114.5,351.67 114.17,288.33 115,260C115.83,231.67 116.67,239.17 120,230Z"/><g clip-path="url(#c7)"><g transform="translate(-12,-5)"><path class="t" d="M120,230C123.33,220.83 128.33,212.5 135,205C141.67,197.5 151.67,191.67 160,185C191.67,166.67 223.33,148.33 255,130C260,129 265.83,126.17 270,127C274.17,127.83 277.5,129.5 280,135C282.5,140.5 283.33,132.5 285,160C286.67,187.5 289.17,256.67 290,300C290.83,343.33 290.83,394.17 290,420C289.17,445.83 288.33,443.33 285,455C281.67,466.67 273.33,480 270,490C266.67,500 266.67,506.67 265,515C256.67,521.67 257.5,523.33 240,535C222.5,546.67 186.67,568.33 160,585C151.67,587.33 141.33,592.83 135,592C128.67,591.17 124.83,587 122,580C119.17,573 119.17,580 118,550C116.83,520 115.5,448.33 115,400C114.5,351.67 114.17,288.33 115,260C115.83,231.67 116.67,239.17 120,230Z"/></g></g><clipPath id="c8"><ellipse cx="155" cy="105" rx="18" ry="36" transform="rotate(25 155 105)"/></clipPath><ellipse class="t" cx="155" cy="105" rx="18" ry="36" transform="rotate(25 155 105)"/><g clip-path="url(#c8)"><ellipse class="t" cx="150" cy="103" rx="18" ry="36" transform="rotate(25 150 103)"/></g><clipPath id="c9"><ellipse cx="243" cy="83" rx="16" ry="28" transform="rotate(30 243 83)"/></clipPath><ellipse class="t" cx="243" cy="83" rx="16" ry="28" transform="rotate(30 243 83)"/><g clip-path="url(#c9)"><ellipse class="t" cx="238" cy="81" rx="16" ry="28" transform="rotate(30 238 81)"/></g><clipPath id="c10"><ellipse cx="133" cy="662" rx="17" ry="31" transform="rotate(30 133 662)"/></clipPath><ellipse class="t" cx="133" cy="662" rx="17" ry="31" transform="rotate(30 133 662)"/><g clip-path="url(#c10)"><ellipse class="t" cx="128" cy="660" rx="17" ry="31" transform="rotate(30 128 660)"/></g><path class="t" d="M262,505C266.33,506 270.33,505.5 275,508C279.67,510.5 289.17,517.17 290,520C290.83,522.83 283.67,525.33 280,525C276.33,524.67 272,520.33 268,518"/><path class="t" d="M128,592C124.67,596.33 120.5,600.67 118,605C115.5,609.33 112.67,616.33 113,618C113.33,619.67 117.17,618.33 120,615C122.83,611.67 126.67,603.67 130,598"/></g><path class="t" d="M777.72,202.48 l0,4.3"/><path class="t" d="M776.39,209.9 l0,4.3"/><path class="t" d="M776.4,212.21 l0,4.3"/><path class="t" d="M776.39,214.47 l0,4.3"/><path class="t" d="M845.38,269.04 l0,4.3"/><path class="t" d="M842.11,277.01 l0,4.3"/><path class="t" d="M907.76,336.24 l0,4.3"/><path class="t" d="M763.34,271.13 l0,4.3"/><path class="t" d="M766.22,263.39 l0,4.3"/><path class="t" d="M733,206.6 l0,4.3"/><path class="t" d="M733.08,204.92 l0,4.3"/><path class="t" d="M726.98,193.49 l0,4.3"/><g transform="translate(0,4.3)"><path class="w" d="M727,192.7C727.08,191.12 727.27,189.09 728.1,187.7C728.93,186.31 730.42,185.09 732,184.35C733.58,183.61 735.73,183.31 737.6,183.25C739.47,183.19 741.53,183.44 743.2,184C744.87,184.56 746.22,185.62 747.6,186.6C748.98,187.58 750.02,188.97 751.5,189.9C752.98,190.83 754.37,191.68 756.5,192.15C758.63,192.62 761.88,192.32 764.3,192.7C766.72,193.07 769.13,193.57 771,194.4C772.87,195.23 774.38,196.4 775.5,197.7C776.62,199 777.52,200.98 777.7,202.2C777.88,203.42 776.82,203.43 776.6,205C776.38,206.57 776.37,209.43 776.4,211.65C776.43,213.87 776.22,216.26 776.8,218.3C777.38,220.34 778.45,221.85 779.9,223.9C781.35,225.95 782.15,227.45 785.5,230.6C788.85,233.75 794.58,238.27 800,242.8C805.42,247.33 812,252.8 818,257.8C819.1,258.55 819.63,259.62 821.3,260.05C822.97,260.48 825.4,260.34 828,260.4C830.6,260.46 834.48,260 836.9,260.4C839.32,260.8 841.11,261.56 842.5,262.8C843.89,264.04 844.88,266.27 845.25,267.85C845.62,269.43 845.16,271.09 844.7,272.3C844.24,273.51 842.91,274.17 842.5,275.1C842.09,276.03 841.98,277.07 842.25,277.9C842.52,278.73 843.48,279.37 844.1,280.1C848.3,283.4 846.78,281.85 856.7,290C866.62,298.15 887.97,316 903.6,329C904.52,330.08 905.66,331.09 906.35,332.25C907.04,333.41 907.67,334.79 907.75,335.95C907.83,337.11 907.49,338.12 906.8,339.2C906.11,340.28 904.92,341.67 903.6,342.45C902.28,343.23 900.61,343.64 898.9,343.85C897.19,344.06 895.05,344.01 893.35,343.7C891.65,343.39 890.09,342.52 888.7,342C887.31,341.48 886.39,340.92 885,340.6C883.61,340.28 881.9,339.95 880.35,340.1C878.8,340.25 877.24,340.95 875.7,341.5C874.16,342.05 872.65,343.08 871.1,343.4C869.55,343.72 867.8,343.72 866.4,343.4C865,343.08 863.93,342.13 862.7,341.5C848.47,329.6 832.47,316.22 820,305.8C807.53,295.38 798.6,287.93 787.9,279C786.03,278.7 784.25,278.1 782.3,278.1C780.35,278.1 778.24,278.95 776.2,279C774.16,279.05 771.92,278.96 770.05,278.4C768.18,277.84 766.11,276.67 765,275.65C763.89,274.63 763.58,273.69 763.4,272.3C763.22,270.91 763.44,268.69 763.9,267.3C764.36,265.91 765.87,265.07 766.15,263.95C766.43,262.83 765.78,261.72 765.6,260.6C760.4,255.97 754.2,251.33 750,246.7C745.8,242.07 742.93,237.15 740.4,232.8C737.87,228.45 736.02,224.68 734.8,220.6C733.58,216.52 733.42,211.09 733.1,208.3C732.78,205.51 733.35,205.05 732.9,203.85C732.45,202.65 731.28,202.21 730.4,201.1C729.52,199.99 728.17,198.6 727.6,197.2C727.03,195.8 726.92,194.28 727,192.7Z"/></g><path class="w" d="M727,192.7C727.08,191.12 727.27,189.09 728.1,187.7C728.93,186.31 730.42,185.09 732,184.35C733.58,183.61 735.73,183.31 737.6,183.25C739.47,183.19 741.53,183.44 743.2,184C744.87,184.56 746.22,185.62 747.6,186.6C748.98,187.58 750.02,188.97 751.5,189.9C752.98,190.83 754.37,191.68 756.5,192.15C758.63,192.62 761.88,192.32 764.3,192.7C766.72,193.07 769.13,193.57 771,194.4C772.87,195.23 774.38,196.4 775.5,197.7C776.62,199 777.52,200.98 777.7,202.2C777.88,203.42 776.82,203.43 776.6,205C776.38,206.57 776.37,209.43 776.4,211.65C776.43,213.87 776.22,216.26 776.8,218.3C777.38,220.34 778.45,221.85 779.9,223.9C781.35,225.95 782.15,227.45 785.5,230.6C788.85,233.75 794.58,238.27 800,242.8C805.42,247.33 812,252.8 818,257.8C819.1,258.55 819.63,259.62 821.3,260.05C822.97,260.48 825.4,260.34 828,260.4C830.6,260.46 834.48,260 836.9,260.4C839.32,260.8 841.11,261.56 842.5,262.8C843.89,264.04 844.88,266.27 845.25,267.85C845.62,269.43 845.16,271.09 844.7,272.3C844.24,273.51 842.91,274.17 842.5,275.1C842.09,276.03 841.98,277.07 842.25,277.9C842.52,278.73 843.48,279.37 844.1,280.1C848.3,283.4 846.78,281.85 856.7,290C866.62,298.15 887.97,316 903.6,329C904.52,330.08 905.66,331.09 906.35,332.25C907.04,333.41 907.67,334.79 907.75,335.95C907.83,337.11 907.49,338.12 906.8,339.2C906.11,340.28 904.92,341.67 903.6,342.45C902.28,343.23 900.61,343.64 898.9,343.85C897.19,344.06 895.05,344.01 893.35,343.7C891.65,343.39 890.09,342.52 888.7,342C887.31,341.48 886.39,340.92 885,340.6C883.61,340.28 881.9,339.95 880.35,340.1C878.8,340.25 877.24,340.95 875.7,341.5C874.16,342.05 872.65,343.08 871.1,343.4C869.55,343.72 867.8,343.72 866.4,343.4C865,343.08 863.93,342.13 862.7,341.5C848.47,329.6 832.47,316.22 820,305.8C807.53,295.38 798.6,287.93 787.9,279C786.03,278.7 784.25,278.1 782.3,278.1C780.35,278.1 778.24,278.95 776.2,279C774.16,279.05 771.92,278.96 770.05,278.4C768.18,277.84 766.11,276.67 765,275.65C763.89,274.63 763.58,273.69 763.4,272.3C763.22,270.91 763.44,268.69 763.9,267.3C764.36,265.91 765.87,265.07 766.15,263.95C766.43,262.83 765.78,261.72 765.6,260.6C760.4,255.97 754.2,251.33 750,246.7C745.8,242.07 742.93,237.15 740.4,232.8C737.87,228.45 736.02,224.68 734.8,220.6C733.58,216.52 733.42,211.09 733.1,208.3C732.78,205.51 733.35,205.05 732.9,203.85C732.45,202.65 731.28,202.21 730.4,201.1C729.52,199.99 728.17,198.6 727.6,197.2C727.03,195.8 726.92,194.28 727,192.7Z"/><clipPath id="c11"><path d="M743.2,203.85C743.38,201.62 743.38,201.34 744.3,200.5C745.22,199.66 746.1,199.02 748.7,198.8C751.3,198.58 757.3,198.82 759.9,199.2C762.5,199.58 763.23,200.23 764.3,201.1C765.37,201.97 766.2,203.02 766.3,204.4C766.4,205.78 765.13,207.45 764.9,209.4C764.67,211.35 764.43,213.87 764.9,216.1C765.37,218.33 766.12,220.2 767.7,222.8C769.28,225.4 771.78,228.83 774.4,231.7C777.02,234.57 780.4,237.23 783.4,240C803.03,256.67 825.83,276.18 842.3,290C858.77,303.82 868.9,311.97 882.2,322.95C882.77,323.88 883.75,324.89 883.9,325.75C884.05,326.61 883.37,327.32 883.1,328.1C880.02,329.8 876.93,331.5 873.85,333.2C872.77,333.6 871.68,334.33 870.6,334.4C869.52,334.47 868.35,334.12 867.35,333.6C866.35,333.08 865.52,332.07 864.6,331.3C849.73,318.93 834.3,306.27 820,294.2C805.7,282.13 792.53,270.67 778.8,258.9C773.6,254.3 767.65,249.27 763.2,245.1C758.75,240.93 754.97,237.62 752.1,233.9C749.23,230.18 747.48,226.13 746,222.8C744.52,219.47 743.67,217.06 743.2,213.9C742.73,210.74 743.02,206.08 743.2,203.85Z"/></clipPath><path class="w" d="M743.2,203.85C743.38,201.62 743.38,201.34 744.3,200.5C745.22,199.66 746.1,199.02 748.7,198.8C751.3,198.58 757.3,198.82 759.9,199.2C762.5,199.58 763.23,200.23 764.3,201.1C765.37,201.97 766.2,203.02 766.3,204.4C766.4,205.78 765.13,207.45 764.9,209.4C764.67,211.35 764.43,213.87 764.9,216.1C765.37,218.33 766.12,220.2 767.7,222.8C769.28,225.4 771.78,228.83 774.4,231.7C777.02,234.57 780.4,237.23 783.4,240C803.03,256.67 825.83,276.18 842.3,290C858.77,303.82 868.9,311.97 882.2,322.95C882.77,323.88 883.75,324.89 883.9,325.75C884.05,326.61 883.37,327.32 883.1,328.1C880.02,329.8 876.93,331.5 873.85,333.2C872.77,333.6 871.68,334.33 870.6,334.4C869.52,334.47 868.35,334.12 867.35,333.6C866.35,333.08 865.52,332.07 864.6,331.3C849.73,318.93 834.3,306.27 820,294.2C805.7,282.13 792.53,270.67 778.8,258.9C773.6,254.3 767.65,249.27 763.2,245.1C758.75,240.93 754.97,237.62 752.1,233.9C749.23,230.18 747.48,226.13 746,222.8C744.52,219.47 743.67,217.06 743.2,213.9C742.73,210.74 743.02,206.08 743.2,203.85Z"/><g clip-path="url(#c11)"><g transform="translate(0,4.3)"><path class="t" d="M743.2,203.85C743.38,201.62 743.38,201.34 744.3,200.5C745.22,199.66 746.1,199.02 748.7,198.8C751.3,198.58 757.3,198.82 759.9,199.2C762.5,199.58 763.23,200.23 764.3,201.1C765.37,201.97 766.2,203.02 766.3,204.4C766.4,205.78 765.13,207.45 764.9,209.4C764.67,211.35 764.43,213.87 764.9,216.1C765.37,218.33 766.12,220.2 767.7,222.8C769.28,225.4 771.78,228.83 774.4,231.7C777.02,234.57 780.4,237.23 783.4,240C803.03,256.67 825.83,276.18 842.3,290C858.77,303.82 868.9,311.97 882.2,322.95C882.77,323.88 883.75,324.89 883.9,325.75C884.05,326.61 883.37,327.32 883.1,328.1C880.02,329.8 876.93,331.5 873.85,333.2C872.77,333.6 871.68,334.33 870.6,334.4C869.52,334.47 868.35,334.12 867.35,333.6C866.35,333.08 865.52,332.07 864.6,331.3C849.73,318.93 834.3,306.27 820,294.2C805.7,282.13 792.53,270.67 778.8,258.9C773.6,254.3 767.65,249.27 763.2,245.1C758.75,240.93 754.97,237.62 752.1,233.9C749.23,230.18 747.48,226.13 746,222.8C744.52,219.47 743.67,217.06 743.2,213.9C742.73,210.74 743.02,206.08 743.2,203.85Z"/></g></g><clipPath id="c12"><ellipse cx="738.7" cy="191.9" rx="6.4" ry="4.6"/></clipPath><ellipse class="t" cx="738.7" cy="191.9" rx="6.4" ry="4.6"/><g clip-path="url(#c12)"><ellipse class="t" cx="738.7" cy="194.9" rx="6.4" ry="4.6"/></g><clipPath id="c13"><ellipse cx="775.85" cy="270.97" rx="6.5" ry="4.7"/></clipPath><ellipse class="t" cx="775.85" cy="270.97" rx="6.5" ry="4.7"/><g clip-path="url(#c13)"><ellipse class="t" cx="775.85" cy="273.97" rx="6.5" ry="4.7"/></g><clipPath id="c14"><ellipse cx="833.55" cy="268.4" rx="6.5" ry="4.5"/></clipPath><ellipse class="t" cx="833.55" cy="268.4" rx="6.5" ry="4.5"/><g clip-path="url(#c14)"><ellipse class="t" cx="833.55" cy="271.4" rx="6.5" ry="4.5"/></g><clipPath id="c15"><ellipse cx="895.4" cy="335.95" rx="6.3" ry="4.6"/></clipPath><ellipse class="t" cx="895.4" cy="335.95" rx="6.3" ry="4.6"/><g clip-path="url(#c15)"><ellipse class="t" cx="895.4" cy="338.95" rx="6.3" ry="4.6"/></g><g transform="translate(720,322) scale(0.11141)" style="stroke-width:8.98"><path class="t" d="M1076.48,425.48 l0,28"/><path class="t" d="M54.73,155.16 l0,28"/><g transform="translate(0,28)"><path class="w" d="M55,150C55.83,141.67 57.5,124.17 65,115C72.5,105.83 84.17,99.17 100,95C115.83,90.83 141.67,89.67 160,90C178.33,90.33 195,94 210,97C225,100 218.33,101.67 250,108C281.67,114.33 350,125.5 400,135C450,144.5 500,154.17 550,165C600,175.83 661.67,188.33 700,200C738.33,211.67 756.67,222.5 780,235C803.33,247.5 823.33,260.83 840,275C856.67,289.17 870,309.17 880,320C890,330.83 890,335 900,340C910,345 923.33,346.67 940,350C956.67,353.33 981.67,354.17 1000,360C1018.33,365.83 1037.5,375.83 1050,385C1062.5,394.17 1071.67,405 1075,415C1078.33,425 1075.83,437.17 1070,445C1064.17,452.83 1055,458.67 1040,462C1025,465.33 1000,465.67 980,465C960,464.33 936.67,461.33 920,458C903.33,454.67 890,448.83 880,445C870,441.17 873.33,436.33 860,435C846.67,433.67 820,434.5 800,437C780,439.5 763.33,445.83 740,450C716.67,454.17 686.67,460.33 660,462C633.33,463.67 610,463.67 580,460C550,456.33 513.33,449.17 480,440C446.67,430.83 411.67,418.33 380,405C348.33,391.67 315,375.83 290,360C265,344.17 245.83,326.67 230,310C214.17,293.33 203.33,274.17 195,260C186.67,245.83 185,234.17 180,225C175,215.83 173.33,210 165,205C156.67,200 143.33,199.17 130,195C116.67,190.83 96.67,185 85,180C73.33,175 65,170 60,165C55,160 54.17,158.33 55,150Z"/></g><path class="w" d="M55,150C55.83,141.67 57.5,124.17 65,115C72.5,105.83 84.17,99.17 100,95C115.83,90.83 141.67,89.67 160,90C178.33,90.33 195,94 210,97C225,100 218.33,101.67 250,108C281.67,114.33 350,125.5 400,135C450,144.5 500,154.17 550,165C600,175.83 661.67,188.33 700,200C738.33,211.67 756.67,222.5 780,235C803.33,247.5 823.33,260.83 840,275C856.67,289.17 870,309.17 880,320C890,330.83 890,335 900,340C910,345 923.33,346.67 940,350C956.67,353.33 981.67,354.17 1000,360C1018.33,365.83 1037.5,375.83 1050,385C1062.5,394.17 1071.67,405 1075,415C1078.33,425 1075.83,437.17 1070,445C1064.17,452.83 1055,458.67 1040,462C1025,465.33 1000,465.67 980,465C960,464.33 936.67,461.33 920,458C903.33,454.67 890,448.83 880,445C870,441.17 873.33,436.33 860,435C846.67,433.67 820,434.5 800,437C780,439.5 763.33,445.83 740,450C716.67,454.17 686.67,460.33 660,462C633.33,463.67 610,463.67 580,460C550,456.33 513.33,449.17 480,440C446.67,430.83 411.67,418.33 380,405C348.33,391.67 315,375.83 290,360C265,344.17 245.83,326.67 230,310C214.17,293.33 203.33,274.17 195,260C186.67,245.83 185,234.17 180,225C175,215.83 173.33,210 165,205C156.67,200 143.33,199.17 130,195C116.67,190.83 96.67,185 85,180C73.33,175 65,170 60,165C55,160 54.17,158.33 55,150Z"/><clipPath id="c16"><ellipse cx="548" cy="310" rx="255" ry="103" transform="rotate(10 548 310)"/></clipPath><ellipse class="t" cx="548" cy="310" rx="255" ry="103" transform="rotate(10 548 310)"/><g clip-path="url(#c16)"><ellipse class="t" cx="548" cy="342" rx="255" ry="103" transform="rotate(10 548 342)"/></g><clipPath id="c17"><ellipse cx="185" cy="148" rx="46" ry="20" transform="rotate(8 185 148)"/></clipPath><ellipse class="t" cx="185" cy="148" rx="46" ry="20" transform="rotate(8 185 148)"/><g clip-path="url(#c17)"><ellipse class="t" cx="185" cy="160" rx="46" ry="20" transform="rotate(8 185 160)"/></g><clipPath id="c18"><ellipse cx="950" cy="410" rx="48" ry="20" transform="rotate(10 950 410)"/></clipPath><ellipse class="t" cx="950" cy="410" rx="48" ry="20" transform="rotate(10 950 410)"/><g clip-path="url(#c18)"><ellipse class="t" cx="950" cy="422" rx="48" ry="20" transform="rotate(10 950 422)"/></g></g><g transform="translate(880,120) scale(0.19928)" style="stroke-width:5.02"><clipPath id="c19"><path d="M235,100C239,87.33 241.67,77.17 250,70C258.33,62.83 273.33,57 285,57C296.67,57 310,62.83 320,70C330,77.17 335,88.33 345,100C355,111.67 364.17,126.67 380,140C395.83,153.33 416.67,165.83 440,180C463.33,194.17 498.33,214.17 520,225C541.67,235.83 553.33,241.67 570,245C586.67,248.33 605,241.67 620,245C635,248.33 648.33,255.83 660,265C671.67,274.17 680,287.5 690,300C700,312.5 706.67,327.5 720,340C733.33,352.5 750,365 770,375C790,385 818.33,390.83 840,400C861.67,409.17 881.67,418.33 900,430C918.33,441.67 933.33,456.67 950,470C966.67,483.33 983.33,498.33 1000,510C1016.67,521.67 1035.83,526.67 1050,540C1064.17,553.33 1077,571.67 1085,590C1093,608.33 1096.33,623 1098,650C1099.67,677 1096.33,718.33 1095,752C1093.67,785.67 1092.17,818.67 1090,852C1087.83,885.33 1085.33,922 1082,952C1078.67,982 1072.83,1007 1070,1032C1067.17,1057 1068.33,1080.33 1065,1102C1061.67,1123.67 1057.5,1143.67 1050,1162C1042.5,1180.33 1027.5,1195.33 1020,1212C1012.5,1228.67 1006.67,1245.33 1005,1262C1003.33,1278.67 1012.5,1297.83 1010,1312C1007.5,1326.17 998.33,1338.67 990,1347C981.67,1355.33 970.83,1361.17 960,1362C949.17,1362.83 938.33,1359.5 925,1352C911.67,1344.5 909.17,1338.67 880,1317C850.83,1295.33 793.33,1254.5 750,1222C706.67,1189.5 650,1147 620,1122C590,1097 583.33,1086.17 570,1072C556.67,1057.83 555,1048.67 540,1037C525,1025.33 503.33,1015.33 480,1002C456.67,988.67 420,966.17 400,957C380,947.83 373.33,949.5 360,947C346.67,944.5 333.33,947 320,942C306.67,937 290.83,927 280,917C269.17,907 261.67,894.5 255,882C248.33,869.5 244.17,858.67 240,842C235.83,825.33 235.83,803.67 230,782C224.17,760.33 214.17,734 205,712C195.83,690 187.5,675.33 175,650C162.5,624.67 143.33,588.33 130,560C116.67,531.67 105,501.67 95,480C85,458.33 75.5,446.67 70,430C64.5,413.33 62,394.17 62,380C62,365.83 65.33,354.17 70,345C74.67,335.83 80,332.5 90,325C100,317.5 115,316.5 130,300C145,283.5 167.67,245 180,226C192.33,207 196.33,199.33 204,186C211.67,172.67 220.83,160.33 226,146C231.17,131.67 231,112.67 235,100Z"/></clipPath><path class="w" d="M235,100C239,87.33 241.67,77.17 250,70C258.33,62.83 273.33,57 285,57C296.67,57 310,62.83 320,70C330,77.17 335,88.33 345,100C355,111.67 364.17,126.67 380,140C395.83,153.33 416.67,165.83 440,180C463.33,194.17 498.33,214.17 520,225C541.67,235.83 553.33,241.67 570,245C586.67,248.33 605,241.67 620,245C635,248.33 648.33,255.83 660,265C671.67,274.17 680,287.5 690,300C700,312.5 706.67,327.5 720,340C733.33,352.5 750,365 770,375C790,385 818.33,390.83 840,400C861.67,409.17 881.67,418.33 900,430C918.33,441.67 933.33,456.67 950,470C966.67,483.33 983.33,498.33 1000,510C1016.67,521.67 1035.83,526.67 1050,540C1064.17,553.33 1077,571.67 1085,590C1093,608.33 1096.33,623 1098,650C1099.67,677 1096.33,718.33 1095,752C1093.67,785.67 1092.17,818.67 1090,852C1087.83,885.33 1085.33,922 1082,952C1078.67,982 1072.83,1007 1070,1032C1067.17,1057 1068.33,1080.33 1065,1102C1061.67,1123.67 1057.5,1143.67 1050,1162C1042.5,1180.33 1027.5,1195.33 1020,1212C1012.5,1228.67 1006.67,1245.33 1005,1262C1003.33,1278.67 1012.5,1297.83 1010,1312C1007.5,1326.17 998.33,1338.67 990,1347C981.67,1355.33 970.83,1361.17 960,1362C949.17,1362.83 938.33,1359.5 925,1352C911.67,1344.5 909.17,1338.67 880,1317C850.83,1295.33 793.33,1254.5 750,1222C706.67,1189.5 650,1147 620,1122C590,1097 583.33,1086.17 570,1072C556.67,1057.83 555,1048.67 540,1037C525,1025.33 503.33,1015.33 480,1002C456.67,988.67 420,966.17 400,957C380,947.83 373.33,949.5 360,947C346.67,944.5 333.33,947 320,942C306.67,937 290.83,927 280,917C269.17,907 261.67,894.5 255,882C248.33,869.5 244.17,858.67 240,842C235.83,825.33 235.83,803.67 230,782C224.17,760.33 214.17,734 205,712C195.83,690 187.5,675.33 175,650C162.5,624.67 143.33,588.33 130,560C116.67,531.67 105,501.67 95,480C85,458.33 75.5,446.67 70,430C64.5,413.33 62,394.17 62,380C62,365.83 65.33,354.17 70,345C74.67,335.83 80,332.5 90,325C100,317.5 115,316.5 130,300C145,283.5 167.67,245 180,226C192.33,207 196.33,199.33 204,186C211.67,172.67 220.83,160.33 226,146C231.17,131.67 231,112.67 235,100Z"/><g clip-path="url(#c19)"><g transform="translate(-14,5)"><path class="t" d="M235,100C239,87.33 241.67,77.17 250,70C258.33,62.83 273.33,57 285,57C296.67,57 310,62.83 320,70C330,77.17 335,88.33 345,100C355,111.67 364.17,126.67 380,140C395.83,153.33 416.67,165.83 440,180C463.33,194.17 498.33,214.17 520,225C541.67,235.83 553.33,241.67 570,245C586.67,248.33 605,241.67 620,245C635,248.33 648.33,255.83 660,265C671.67,274.17 680,287.5 690,300C700,312.5 706.67,327.5 720,340C733.33,352.5 750,365 770,375C790,385 818.33,390.83 840,400C861.67,409.17 881.67,418.33 900,430C918.33,441.67 933.33,456.67 950,470C966.67,483.33 983.33,498.33 1000,510C1016.67,521.67 1035.83,526.67 1050,540C1064.17,553.33 1077,571.67 1085,590C1093,608.33 1096.33,623 1098,650C1099.67,677 1096.33,718.33 1095,752C1093.67,785.67 1092.17,818.67 1090,852C1087.83,885.33 1085.33,922 1082,952C1078.67,982 1072.83,1007 1070,1032C1067.17,1057 1068.33,1080.33 1065,1102C1061.67,1123.67 1057.5,1143.67 1050,1162C1042.5,1180.33 1027.5,1195.33 1020,1212C1012.5,1228.67 1006.67,1245.33 1005,1262C1003.33,1278.67 1012.5,1297.83 1010,1312C1007.5,1326.17 998.33,1338.67 990,1347C981.67,1355.33 970.83,1361.17 960,1362C949.17,1362.83 938.33,1359.5 925,1352C911.67,1344.5 909.17,1338.67 880,1317C850.83,1295.33 793.33,1254.5 750,1222C706.67,1189.5 650,1147 620,1122C590,1097 583.33,1086.17 570,1072C556.67,1057.83 555,1048.67 540,1037C525,1025.33 503.33,1015.33 480,1002C456.67,988.67 420,966.17 400,957C380,947.83 373.33,949.5 360,947C346.67,944.5 333.33,947 320,942C306.67,937 290.83,927 280,917C269.17,907 261.67,894.5 255,882C248.33,869.5 244.17,858.67 240,842C235.83,825.33 235.83,803.67 230,782C224.17,760.33 214.17,734 205,712C195.83,690 187.5,675.33 175,650C162.5,624.67 143.33,588.33 130,560C116.67,531.67 105,501.67 95,480C85,458.33 75.5,446.67 70,430C64.5,413.33 62,394.17 62,380C62,365.83 65.33,354.17 70,345C74.67,335.83 80,332.5 90,325C100,317.5 115,316.5 130,300C145,283.5 167.67,245 180,226C192.33,207 196.33,199.33 204,186C211.67,172.67 220.83,160.33 226,146C231.17,131.67 231,112.67 235,100Z"/></g></g><clipPath id="c20"><path d="M200,400C202,380 203.33,349.17 210,330C216.67,310.83 226.67,296.67 240,285C253.33,273.33 271.67,265 290,260C308.33,255 330,254.17 350,255C370,255.83 390,258.33 410,265C430,271.67 450,282.5 470,295C490,307.5 511.67,323.33 530,340C548.33,356.67 565,378.33 580,395C595,411.67 606.67,428.33 620,440C633.33,451.67 643.33,458.33 660,465C676.67,471.67 698.33,476.17 720,480C741.67,483.83 768.33,483.83 790,488C811.67,492.17 830,494.67 850,505C870,515.33 893.33,534.17 910,550C926.67,565.83 938.33,581.67 950,600C961.67,618.33 972.5,640 980,660C987.5,680 992.17,704.67 995,720C997.83,735.33 998.67,738.33 997,752C995.33,765.67 991.17,787.83 985,802C978.83,816.17 967.17,827 960,837C952.83,847 945.33,851.17 942,862C938.67,872.83 937.83,887 940,902C942.17,917 950,935.33 955,952C960,968.67 966.17,983.67 970,1002C973.83,1020.33 979.67,1045.33 978,1062C976.33,1078.67 968,1092.33 960,1102C952,1111.67 941.67,1118 930,1120C918.33,1122 905,1120.33 890,1114C875,1107.67 858.33,1096.5 840,1082C821.67,1067.5 800,1045.33 780,1027C760,1008.67 736.67,986.17 720,972C703.33,957.83 693.33,947.83 680,942C666.67,936.17 655,937 640,937C625,937 610,943.17 590,942C570,940.83 543.33,937.5 520,930C496.67,922.5 471.67,910 450,897C428.33,884 410,871.17 390,852C370,832.83 346.33,803.67 330,782C313.67,760.33 304,743.67 292,722C280,700.33 268.67,674 258,652C247.33,630 236.83,612 228,590C219.17,568 210,543.33 205,520C200,496.67 198.83,470 198,450C197.17,430 198,420 200,400Z"/></clipPath><path class="w" d="M200,400C202,380 203.33,349.17 210,330C216.67,310.83 226.67,296.67 240,285C253.33,273.33 271.67,265 290,260C308.33,255 330,254.17 350,255C370,255.83 390,258.33 410,265C430,271.67 450,282.5 470,295C490,307.5 511.67,323.33 530,340C548.33,356.67 565,378.33 580,395C595,411.67 606.67,428.33 620,440C633.33,451.67 643.33,458.33 660,465C676.67,471.67 698.33,476.17 720,480C741.67,483.83 768.33,483.83 790,488C811.67,492.17 830,494.67 850,505C870,515.33 893.33,534.17 910,550C926.67,565.83 938.33,581.67 950,600C961.67,618.33 972.5,640 980,660C987.5,680 992.17,704.67 995,720C997.83,735.33 998.67,738.33 997,752C995.33,765.67 991.17,787.83 985,802C978.83,816.17 967.17,827 960,837C952.83,847 945.33,851.17 942,862C938.67,872.83 937.83,887 940,902C942.17,917 950,935.33 955,952C960,968.67 966.17,983.67 970,1002C973.83,1020.33 979.67,1045.33 978,1062C976.33,1078.67 968,1092.33 960,1102C952,1111.67 941.67,1118 930,1120C918.33,1122 905,1120.33 890,1114C875,1107.67 858.33,1096.5 840,1082C821.67,1067.5 800,1045.33 780,1027C760,1008.67 736.67,986.17 720,972C703.33,957.83 693.33,947.83 680,942C666.67,936.17 655,937 640,937C625,937 610,943.17 590,942C570,940.83 543.33,937.5 520,930C496.67,922.5 471.67,910 450,897C428.33,884 410,871.17 390,852C370,832.83 346.33,803.67 330,782C313.67,760.33 304,743.67 292,722C280,700.33 268.67,674 258,652C247.33,630 236.83,612 228,590C219.17,568 210,543.33 205,520C200,496.67 198.83,470 198,450C197.17,430 198,420 200,400Z"/><g clip-path="url(#c20)"><g transform="translate(14,-5)"><path class="t" d="M200,400C202,380 203.33,349.17 210,330C216.67,310.83 226.67,296.67 240,285C253.33,273.33 271.67,265 290,260C308.33,255 330,254.17 350,255C370,255.83 390,258.33 410,265C430,271.67 450,282.5 470,295C490,307.5 511.67,323.33 530,340C548.33,356.67 565,378.33 580,395C595,411.67 606.67,428.33 620,440C633.33,451.67 643.33,458.33 660,465C676.67,471.67 698.33,476.17 720,480C741.67,483.83 768.33,483.83 790,488C811.67,492.17 830,494.67 850,505C870,515.33 893.33,534.17 910,550C926.67,565.83 938.33,581.67 950,600C961.67,618.33 972.5,640 980,660C987.5,680 992.17,704.67 995,720C997.83,735.33 998.67,738.33 997,752C995.33,765.67 991.17,787.83 985,802C978.83,816.17 967.17,827 960,837C952.83,847 945.33,851.17 942,862C938.67,872.83 937.83,887 940,902C942.17,917 950,935.33 955,952C960,968.67 966.17,983.67 970,1002C973.83,1020.33 979.67,1045.33 978,1062C976.33,1078.67 968,1092.33 960,1102C952,1111.67 941.67,1118 930,1120C918.33,1122 905,1120.33 890,1114C875,1107.67 858.33,1096.5 840,1082C821.67,1067.5 800,1045.33 780,1027C760,1008.67 736.67,986.17 720,972C703.33,957.83 693.33,947.83 680,942C666.67,936.17 655,937 640,937C625,937 610,943.17 590,942C570,940.83 543.33,937.5 520,930C496.67,922.5 471.67,910 450,897C428.33,884 410,871.17 390,852C370,832.83 346.33,803.67 330,782C313.67,760.33 304,743.67 292,722C280,700.33 268.67,674 258,652C247.33,630 236.83,612 228,590C219.17,568 210,543.33 205,520C200,496.67 198.83,470 198,450C197.17,430 198,420 200,400Z"/></g></g><clipPath id="c21"><ellipse cx="305" cy="155" rx="48" ry="27" transform="rotate(55 305 155)"/></clipPath><ellipse class="t" cx="305" cy="155" rx="48" ry="27" transform="rotate(55 305 155)"/><g clip-path="url(#c21)"><ellipse class="t" cx="317" cy="151" rx="48" ry="27" transform="rotate(55 317 151)"/></g><clipPath id="c22"><ellipse cx="628" cy="343" rx="48" ry="27" transform="rotate(55 628 343)"/></clipPath><ellipse class="t" cx="628" cy="343" rx="48" ry="27" transform="rotate(55 628 343)"/><g clip-path="url(#c22)"><ellipse class="t" cx="640" cy="339" rx="48" ry="27" transform="rotate(55 640 339)"/></g><clipPath id="c23"><ellipse cx="133" cy="412" rx="48" ry="27" transform="rotate(55 133 412)"/></clipPath><ellipse class="t" cx="133" cy="412" rx="48" ry="27" transform="rotate(55 133 412)"/><g clip-path="url(#c23)"><ellipse class="t" cx="145" cy="408" rx="48" ry="27" transform="rotate(55 145 408)"/></g><clipPath id="c24"><ellipse cx="1018" cy="615" rx="48" ry="27" transform="rotate(55 1018 615)"/></clipPath><ellipse class="t" cx="1018" cy="615" rx="48" ry="27" transform="rotate(55 1018 615)"/><g clip-path="url(#c24)"><ellipse class="t" cx="1030" cy="611" rx="48" ry="27" transform="rotate(55 1030 611)"/></g><clipPath id="c25"><ellipse cx="303" cy="862" rx="48" ry="27" transform="rotate(55 303 862)"/></clipPath><ellipse class="t" cx="303" cy="862" rx="48" ry="27" transform="rotate(55 303 862)"/><g clip-path="url(#c25)"><ellipse class="t" cx="315" cy="858" rx="48" ry="27" transform="rotate(55 315 858)"/></g><clipPath id="c26"><ellipse cx="628" cy="1049" rx="48" ry="27" transform="rotate(55 628 1049)"/></clipPath><ellipse class="t" cx="628" cy="1049" rx="48" ry="27" transform="rotate(55 628 1049)"/><g clip-path="url(#c26)"><ellipse class="t" cx="640" cy="1045" rx="48" ry="27" transform="rotate(55 640 1045)"/></g><clipPath id="c27"><ellipse cx="1005" cy="912" rx="48" ry="27" transform="rotate(55 1005 912)"/></clipPath><ellipse class="t" cx="1005" cy="912" rx="48" ry="27" transform="rotate(55 1005 912)"/><g clip-path="url(#c27)"><ellipse class="t" cx="1017" cy="908" rx="48" ry="27" transform="rotate(55 1017 908)"/></g><clipPath id="c28"><ellipse cx="932" cy="1274" rx="48" ry="27" transform="rotate(55 932 1274)"/></clipPath><ellipse class="t" cx="932" cy="1274" rx="48" ry="27" transform="rotate(55 932 1274)"/><g clip-path="url(#c28)"><ellipse class="t" cx="944" cy="1270" rx="48" ry="27" transform="rotate(55 944 1270)"/></g></g><g transform="translate(750,56) scale(0.13263)" style="stroke-width:7.54"><path class="t" d="M611,104 l-10,-9"/><path class="t" d="M168.21,659.11 l-10,-9"/><g transform="translate(-10,-9)"><path class="w" d="M566,85C575.17,83 574.5,81.83 582,85C589.5,88.17 604.67,98.17 611,104C617.33,109.83 618.5,110.67 620,120C621.5,129.33 620.33,146.67 620,160C619.67,173.33 620.33,180 618,200C615.67,220 612.33,253.33 606,280C599.67,306.67 590.17,335.83 580,360C569.83,384.17 560,403.33 545,425C530,446.67 514.17,466.67 490,490C465.83,513.33 431.67,540 400,565C368.33,590 327.67,619.67 300,640C272.33,660.33 247.67,678.5 234,687C220.33,695.5 228.17,695 218,691C207.83,687 181.83,670.17 173,663C164.17,655.83 166.33,658.5 165,648C163.67,637.5 163.83,618 165,600C166.17,582 168.17,561.67 172,540C175.83,518.33 182,492.5 188,470C194,447.5 198.83,427 208,405C217.17,383 229,359.67 243,338C257,316.33 272.5,296.33 292,275C311.5,253.67 334,232.17 360,210C386,187.83 420.17,160.83 448,142C475.83,123.17 507.33,106.5 527,97C546.67,87.5 556.83,87 566,85Z"/></g><path class="w" d="M566,85C575.17,83 574.5,81.83 582,85C589.5,88.17 604.67,98.17 611,104C617.33,109.83 618.5,110.67 620,120C621.5,129.33 620.33,146.67 620,160C619.67,173.33 620.33,180 618,200C615.67,220 612.33,253.33 606,280C599.67,306.67 590.17,335.83 580,360C569.83,384.17 560,403.33 545,425C530,446.67 514.17,466.67 490,490C465.83,513.33 431.67,540 400,565C368.33,590 327.67,619.67 300,640C272.33,660.33 247.67,678.5 234,687C220.33,695.5 228.17,695 218,691C207.83,687 181.83,670.17 173,663C164.17,655.83 166.33,658.5 165,648C163.67,637.5 163.83,618 165,600C166.17,582 168.17,561.67 172,540C175.83,518.33 182,492.5 188,470C194,447.5 198.83,427 208,405C217.17,383 229,359.67 243,338C257,316.33 272.5,296.33 292,275C311.5,253.67 334,232.17 360,210C386,187.83 420.17,160.83 448,142C475.83,123.17 507.33,106.5 527,97C546.67,87.5 556.83,87 566,85Z"/><clipPath id="c29"><ellipse cx="399" cy="384" rx="155" ry="96" transform="rotate(-55 399 384)"/></clipPath><ellipse class="t" cx="399" cy="384" rx="155" ry="96" transform="rotate(-55 399 384)"/><g clip-path="url(#c29)"><ellipse class="t" cx="390" cy="377" rx="155" ry="96" transform="rotate(-55 390 377)"/></g><clipPath id="c30"><ellipse cx="550" cy="176" rx="50" ry="24" transform="rotate(-55 550 176)"/></clipPath><ellipse class="t" cx="550" cy="176" rx="50" ry="24" transform="rotate(-55 550 176)"/><g clip-path="url(#c30)"><ellipse class="t" cx="544" cy="172" rx="50" ry="24" transform="rotate(-55 544 172)"/></g><clipPath id="c31"><ellipse cx="250" cy="600" rx="50" ry="24" transform="rotate(-55 250 600)"/></clipPath><ellipse class="t" cx="250" cy="600" rx="50" ry="24" transform="rotate(-55 250 600)"/><g clip-path="url(#c31)"><ellipse class="t" cx="244" cy="596" rx="50" ry="24" transform="rotate(-55 244 596)"/></g></g><g transform="translate(31.04,534.25) scale(0.15962)" style="stroke-width:6.26"><path class="t" d="M611,104 l-10,-9"/><path class="t" d="M168.21,659.11 l-10,-9"/><g transform="translate(-10,-9)"><path class="w" d="M566,85C575.17,83 574.5,81.83 582,85C589.5,88.17 604.67,98.17 611,104C617.33,109.83 618.5,110.67 620,120C621.5,129.33 620.33,146.67 620,160C619.67,173.33 620.33,180 618,200C615.67,220 612.33,253.33 606,280C599.67,306.67 590.17,335.83 580,360C569.83,384.17 560,403.33 545,425C530,446.67 514.17,466.67 490,490C465.83,513.33 431.67,540 400,565C368.33,590 327.67,619.67 300,640C272.33,660.33 247.67,678.5 234,687C220.33,695.5 228.17,695 218,691C207.83,687 181.83,670.17 173,663C164.17,655.83 166.33,658.5 165,648C163.67,637.5 163.83,618 165,600C166.17,582 168.17,561.67 172,540C175.83,518.33 182,492.5 188,470C194,447.5 198.83,427 208,405C217.17,383 229,359.67 243,338C257,316.33 272.5,296.33 292,275C311.5,253.67 334,232.17 360,210C386,187.83 420.17,160.83 448,142C475.83,123.17 507.33,106.5 527,97C546.67,87.5 556.83,87 566,85Z"/></g><path class="w" d="M566,85C575.17,83 574.5,81.83 582,85C589.5,88.17 604.67,98.17 611,104C617.33,109.83 618.5,110.67 620,120C621.5,129.33 620.33,146.67 620,160C619.67,173.33 620.33,180 618,200C615.67,220 612.33,253.33 606,280C599.67,306.67 590.17,335.83 580,360C569.83,384.17 560,403.33 545,425C530,446.67 514.17,466.67 490,490C465.83,513.33 431.67,540 400,565C368.33,590 327.67,619.67 300,640C272.33,660.33 247.67,678.5 234,687C220.33,695.5 228.17,695 218,691C207.83,687 181.83,670.17 173,663C164.17,655.83 166.33,658.5 165,648C163.67,637.5 163.83,618 165,600C166.17,582 168.17,561.67 172,540C175.83,518.33 182,492.5 188,470C194,447.5 198.83,427 208,405C217.17,383 229,359.67 243,338C257,316.33 272.5,296.33 292,275C311.5,253.67 334,232.17 360,210C386,187.83 420.17,160.83 448,142C475.83,123.17 507.33,106.5 527,97C546.67,87.5 556.83,87 566,85Z"/><clipPath id="c32"><ellipse cx="399" cy="384" rx="155" ry="96" transform="rotate(-55 399 384)"/></clipPath><ellipse class="t" cx="399" cy="384" rx="155" ry="96" transform="rotate(-55 399 384)"/><g clip-path="url(#c32)"><ellipse class="t" cx="390" cy="377" rx="155" ry="96" transform="rotate(-55 390 377)"/></g><clipPath id="c33"><ellipse cx="550" cy="176" rx="50" ry="24" transform="rotate(-55 550 176)"/></clipPath><ellipse class="t" cx="550" cy="176" rx="50" ry="24" transform="rotate(-55 550 176)"/><g clip-path="url(#c33)"><ellipse class="t" cx="544" cy="172" rx="50" ry="24" transform="rotate(-55 544 172)"/></g><clipPath id="c34"><ellipse cx="250" cy="600" rx="50" ry="24" transform="rotate(-55 250 600)"/></clipPath><ellipse class="t" cx="250" cy="600" rx="50" ry="24" transform="rotate(-55 250 600)"/><g clip-path="url(#c34)"><ellipse class="t" cx="244" cy="596" rx="50" ry="24" transform="rotate(-55 244 596)"/></g></g><g transform="translate(143.5,513.5) scale(0.12555)" style="stroke-width:7.96"><clipPath id="c35"><path d="M235,100C239,87.33 241.67,77.17 250,70C258.33,62.83 273.33,57 285,57C296.67,57 310,62.83 320,70C330,77.17 335,88.33 345,100C355,111.67 364.17,126.67 380,140C395.83,153.33 416.67,165.83 440,180C463.33,194.17 498.33,214.17 520,225C541.67,235.83 553.33,241.67 570,245C586.67,248.33 605,241.67 620,245C635,248.33 648.33,255.83 660,265C671.67,274.17 680,287.5 690,300C700,312.5 706.67,327.5 720,340C733.33,352.5 750,365 770,375C790,385 818.33,390.83 840,400C861.67,409.17 881.67,418.33 900,430C918.33,441.67 933.33,456.67 950,470C966.67,483.33 983.33,498.33 1000,510C1016.67,521.67 1035.83,526.67 1050,540C1064.17,553.33 1077,571.67 1085,590C1093,608.33 1096.33,623 1098,650C1099.67,677 1096.33,718.33 1095,752C1093.67,785.67 1092.17,818.67 1090,852C1087.83,885.33 1085.33,922 1082,952C1078.67,982 1072.83,1007 1070,1032C1067.17,1057 1068.33,1080.33 1065,1102C1061.67,1123.67 1057.5,1143.67 1050,1162C1042.5,1180.33 1027.5,1195.33 1020,1212C1012.5,1228.67 1006.67,1245.33 1005,1262C1003.33,1278.67 1012.5,1297.83 1010,1312C1007.5,1326.17 998.33,1338.67 990,1347C981.67,1355.33 970.83,1361.17 960,1362C949.17,1362.83 938.33,1359.5 925,1352C911.67,1344.5 909.17,1338.67 880,1317C850.83,1295.33 793.33,1254.5 750,1222C706.67,1189.5 650,1147 620,1122C590,1097 583.33,1086.17 570,1072C556.67,1057.83 555,1048.67 540,1037C525,1025.33 503.33,1015.33 480,1002C456.67,988.67 420,966.17 400,957C380,947.83 373.33,949.5 360,947C346.67,944.5 333.33,947 320,942C306.67,937 290.83,927 280,917C269.17,907 261.67,894.5 255,882C248.33,869.5 244.17,858.67 240,842C235.83,825.33 235.83,803.67 230,782C224.17,760.33 214.17,734 205,712C195.83,690 187.5,675.33 175,650C162.5,624.67 143.33,588.33 130,560C116.67,531.67 105,501.67 95,480C85,458.33 75.5,446.67 70,430C64.5,413.33 62,394.17 62,380C62,365.83 65.33,354.17 70,345C74.67,335.83 80,332.5 90,325C100,317.5 115,316.5 130,300C145,283.5 167.67,245 180,226C192.33,207 196.33,199.33 204,186C211.67,172.67 220.83,160.33 226,146C231.17,131.67 231,112.67 235,100Z"/></clipPath><path class="w" d="M235,100C239,87.33 241.67,77.17 250,70C258.33,62.83 273.33,57 285,57C296.67,57 310,62.83 320,70C330,77.17 335,88.33 345,100C355,111.67 364.17,126.67 380,140C395.83,153.33 416.67,165.83 440,180C463.33,194.17 498.33,214.17 520,225C541.67,235.83 553.33,241.67 570,245C586.67,248.33 605,241.67 620,245C635,248.33 648.33,255.83 660,265C671.67,274.17 680,287.5 690,300C700,312.5 706.67,327.5 720,340C733.33,352.5 750,365 770,375C790,385 818.33,390.83 840,400C861.67,409.17 881.67,418.33 900,430C918.33,441.67 933.33,456.67 950,470C966.67,483.33 983.33,498.33 1000,510C1016.67,521.67 1035.83,526.67 1050,540C1064.17,553.33 1077,571.67 1085,590C1093,608.33 1096.33,623 1098,650C1099.67,677 1096.33,718.33 1095,752C1093.67,785.67 1092.17,818.67 1090,852C1087.83,885.33 1085.33,922 1082,952C1078.67,982 1072.83,1007 1070,1032C1067.17,1057 1068.33,1080.33 1065,1102C1061.67,1123.67 1057.5,1143.67 1050,1162C1042.5,1180.33 1027.5,1195.33 1020,1212C1012.5,1228.67 1006.67,1245.33 1005,1262C1003.33,1278.67 1012.5,1297.83 1010,1312C1007.5,1326.17 998.33,1338.67 990,1347C981.67,1355.33 970.83,1361.17 960,1362C949.17,1362.83 938.33,1359.5 925,1352C911.67,1344.5 909.17,1338.67 880,1317C850.83,1295.33 793.33,1254.5 750,1222C706.67,1189.5 650,1147 620,1122C590,1097 583.33,1086.17 570,1072C556.67,1057.83 555,1048.67 540,1037C525,1025.33 503.33,1015.33 480,1002C456.67,988.67 420,966.17 400,957C380,947.83 373.33,949.5 360,947C346.67,944.5 333.33,947 320,942C306.67,937 290.83,927 280,917C269.17,907 261.67,894.5 255,882C248.33,869.5 244.17,858.67 240,842C235.83,825.33 235.83,803.67 230,782C224.17,760.33 214.17,734 205,712C195.83,690 187.5,675.33 175,650C162.5,624.67 143.33,588.33 130,560C116.67,531.67 105,501.67 95,480C85,458.33 75.5,446.67 70,430C64.5,413.33 62,394.17 62,380C62,365.83 65.33,354.17 70,345C74.67,335.83 80,332.5 90,325C100,317.5 115,316.5 130,300C145,283.5 167.67,245 180,226C192.33,207 196.33,199.33 204,186C211.67,172.67 220.83,160.33 226,146C231.17,131.67 231,112.67 235,100Z"/><g clip-path="url(#c35)"><g transform="translate(-14,5)"><path class="t" d="M235,100C239,87.33 241.67,77.17 250,70C258.33,62.83 273.33,57 285,57C296.67,57 310,62.83 320,70C330,77.17 335,88.33 345,100C355,111.67 364.17,126.67 380,140C395.83,153.33 416.67,165.83 440,180C463.33,194.17 498.33,214.17 520,225C541.67,235.83 553.33,241.67 570,245C586.67,248.33 605,241.67 620,245C635,248.33 648.33,255.83 660,265C671.67,274.17 680,287.5 690,300C700,312.5 706.67,327.5 720,340C733.33,352.5 750,365 770,375C790,385 818.33,390.83 840,400C861.67,409.17 881.67,418.33 900,430C918.33,441.67 933.33,456.67 950,470C966.67,483.33 983.33,498.33 1000,510C1016.67,521.67 1035.83,526.67 1050,540C1064.17,553.33 1077,571.67 1085,590C1093,608.33 1096.33,623 1098,650C1099.67,677 1096.33,718.33 1095,752C1093.67,785.67 1092.17,818.67 1090,852C1087.83,885.33 1085.33,922 1082,952C1078.67,982 1072.83,1007 1070,1032C1067.17,1057 1068.33,1080.33 1065,1102C1061.67,1123.67 1057.5,1143.67 1050,1162C1042.5,1180.33 1027.5,1195.33 1020,1212C1012.5,1228.67 1006.67,1245.33 1005,1262C1003.33,1278.67 1012.5,1297.83 1010,1312C1007.5,1326.17 998.33,1338.67 990,1347C981.67,1355.33 970.83,1361.17 960,1362C949.17,1362.83 938.33,1359.5 925,1352C911.67,1344.5 909.17,1338.67 880,1317C850.83,1295.33 793.33,1254.5 750,1222C706.67,1189.5 650,1147 620,1122C590,1097 583.33,1086.17 570,1072C556.67,1057.83 555,1048.67 540,1037C525,1025.33 503.33,1015.33 480,1002C456.67,988.67 420,966.17 400,957C380,947.83 373.33,949.5 360,947C346.67,944.5 333.33,947 320,942C306.67,937 290.83,927 280,917C269.17,907 261.67,894.5 255,882C248.33,869.5 244.17,858.67 240,842C235.83,825.33 235.83,803.67 230,782C224.17,760.33 214.17,734 205,712C195.83,690 187.5,675.33 175,650C162.5,624.67 143.33,588.33 130,560C116.67,531.67 105,501.67 95,480C85,458.33 75.5,446.67 70,430C64.5,413.33 62,394.17 62,380C62,365.83 65.33,354.17 70,345C74.67,335.83 80,332.5 90,325C100,317.5 115,316.5 130,300C145,283.5 167.67,245 180,226C192.33,207 196.33,199.33 204,186C211.67,172.67 220.83,160.33 226,146C231.17,131.67 231,112.67 235,100Z"/></g></g><clipPath id="c36"><path d="M200,400C202,380 203.33,349.17 210,330C216.67,310.83 226.67,296.67 240,285C253.33,273.33 271.67,265 290,260C308.33,255 330,254.17 350,255C370,255.83 390,258.33 410,265C430,271.67 450,282.5 470,295C490,307.5 511.67,323.33 530,340C548.33,356.67 565,378.33 580,395C595,411.67 606.67,428.33 620,440C633.33,451.67 643.33,458.33 660,465C676.67,471.67 698.33,476.17 720,480C741.67,483.83 768.33,483.83 790,488C811.67,492.17 830,494.67 850,505C870,515.33 893.33,534.17 910,550C926.67,565.83 938.33,581.67 950,600C961.67,618.33 972.5,640 980,660C987.5,680 992.17,704.67 995,720C997.83,735.33 998.67,738.33 997,752C995.33,765.67 991.17,787.83 985,802C978.83,816.17 967.17,827 960,837C952.83,847 945.33,851.17 942,862C938.67,872.83 937.83,887 940,902C942.17,917 950,935.33 955,952C960,968.67 966.17,983.67 970,1002C973.83,1020.33 979.67,1045.33 978,1062C976.33,1078.67 968,1092.33 960,1102C952,1111.67 941.67,1118 930,1120C918.33,1122 905,1120.33 890,1114C875,1107.67 858.33,1096.5 840,1082C821.67,1067.5 800,1045.33 780,1027C760,1008.67 736.67,986.17 720,972C703.33,957.83 693.33,947.83 680,942C666.67,936.17 655,937 640,937C625,937 610,943.17 590,942C570,940.83 543.33,937.5 520,930C496.67,922.5 471.67,910 450,897C428.33,884 410,871.17 390,852C370,832.83 346.33,803.67 330,782C313.67,760.33 304,743.67 292,722C280,700.33 268.67,674 258,652C247.33,630 236.83,612 228,590C219.17,568 210,543.33 205,520C200,496.67 198.83,470 198,450C197.17,430 198,420 200,400Z"/></clipPath><path class="w" d="M200,400C202,380 203.33,349.17 210,330C216.67,310.83 226.67,296.67 240,285C253.33,273.33 271.67,265 290,260C308.33,255 330,254.17 350,255C370,255.83 390,258.33 410,265C430,271.67 450,282.5 470,295C490,307.5 511.67,323.33 530,340C548.33,356.67 565,378.33 580,395C595,411.67 606.67,428.33 620,440C633.33,451.67 643.33,458.33 660,465C676.67,471.67 698.33,476.17 720,480C741.67,483.83 768.33,483.83 790,488C811.67,492.17 830,494.67 850,505C870,515.33 893.33,534.17 910,550C926.67,565.83 938.33,581.67 950,600C961.67,618.33 972.5,640 980,660C987.5,680 992.17,704.67 995,720C997.83,735.33 998.67,738.33 997,752C995.33,765.67 991.17,787.83 985,802C978.83,816.17 967.17,827 960,837C952.83,847 945.33,851.17 942,862C938.67,872.83 937.83,887 940,902C942.17,917 950,935.33 955,952C960,968.67 966.17,983.67 970,1002C973.83,1020.33 979.67,1045.33 978,1062C976.33,1078.67 968,1092.33 960,1102C952,1111.67 941.67,1118 930,1120C918.33,1122 905,1120.33 890,1114C875,1107.67 858.33,1096.5 840,1082C821.67,1067.5 800,1045.33 780,1027C760,1008.67 736.67,986.17 720,972C703.33,957.83 693.33,947.83 680,942C666.67,936.17 655,937 640,937C625,937 610,943.17 590,942C570,940.83 543.33,937.5 520,930C496.67,922.5 471.67,910 450,897C428.33,884 410,871.17 390,852C370,832.83 346.33,803.67 330,782C313.67,760.33 304,743.67 292,722C280,700.33 268.67,674 258,652C247.33,630 236.83,612 228,590C219.17,568 210,543.33 205,520C200,496.67 198.83,470 198,450C197.17,430 198,420 200,400Z"/><g clip-path="url(#c36)"><g transform="translate(14,-5)"><path class="t" d="M200,400C202,380 203.33,349.17 210,330C216.67,310.83 226.67,296.67 240,285C253.33,273.33 271.67,265 290,260C308.33,255 330,254.17 350,255C370,255.83 390,258.33 410,265C430,271.67 450,282.5 470,295C490,307.5 511.67,323.33 530,340C548.33,356.67 565,378.33 580,395C595,411.67 606.67,428.33 620,440C633.33,451.67 643.33,458.33 660,465C676.67,471.67 698.33,476.17 720,480C741.67,483.83 768.33,483.83 790,488C811.67,492.17 830,494.67 850,505C870,515.33 893.33,534.17 910,550C926.67,565.83 938.33,581.67 950,600C961.67,618.33 972.5,640 980,660C987.5,680 992.17,704.67 995,720C997.83,735.33 998.67,738.33 997,752C995.33,765.67 991.17,787.83 985,802C978.83,816.17 967.17,827 960,837C952.83,847 945.33,851.17 942,862C938.67,872.83 937.83,887 940,902C942.17,917 950,935.33 955,952C960,968.67 966.17,983.67 970,1002C973.83,1020.33 979.67,1045.33 978,1062C976.33,1078.67 968,1092.33 960,1102C952,1111.67 941.67,1118 930,1120C918.33,1122 905,1120.33 890,1114C875,1107.67 858.33,1096.5 840,1082C821.67,1067.5 800,1045.33 780,1027C760,1008.67 736.67,986.17 720,972C703.33,957.83 693.33,947.83 680,942C666.67,936.17 655,937 640,937C625,937 610,943.17 590,942C570,940.83 543.33,937.5 520,930C496.67,922.5 471.67,910 450,897C428.33,884 410,871.17 390,852C370,832.83 346.33,803.67 330,782C313.67,760.33 304,743.67 292,722C280,700.33 268.67,674 258,652C247.33,630 236.83,612 228,590C219.17,568 210,543.33 205,520C200,496.67 198.83,470 198,450C197.17,430 198,420 200,400Z"/></g></g><clipPath id="c37"><ellipse cx="305" cy="155" rx="48" ry="27" transform="rotate(55 305 155)"/></clipPath><ellipse class="t" cx="305" cy="155" rx="48" ry="27" transform="rotate(55 305 155)"/><g clip-path="url(#c37)"><ellipse class="t" cx="317" cy="151" rx="48" ry="27" transform="rotate(55 317 151)"/></g><clipPath id="c38"><ellipse cx="628" cy="343" rx="48" ry="27" transform="rotate(55 628 343)"/></clipPath><ellipse class="t" cx="628" cy="343" rx="48" ry="27" transform="rotate(55 628 343)"/><g clip-path="url(#c38)"><ellipse class="t" cx="640" cy="339" rx="48" ry="27" transform="rotate(55 640 339)"/></g><clipPath id="c39"><ellipse cx="133" cy="412" rx="48" ry="27" transform="rotate(55 133 412)"/></clipPath><ellipse class="t" cx="133" cy="412" rx="48" ry="27" transform="rotate(55 133 412)"/><g clip-path="url(#c39)"><ellipse class="t" cx="145" cy="408" rx="48" ry="27" transform="rotate(55 145 408)"/></g><clipPath id="c40"><ellipse cx="1018" cy="615" rx="48" ry="27" transform="rotate(55 1018 615)"/></clipPath><ellipse class="t" cx="1018" cy="615" rx="48" ry="27" transform="rotate(55 1018 615)"/><g clip-path="url(#c40)"><ellipse class="t" cx="1030" cy="611" rx="48" ry="27" transform="rotate(55 1030 611)"/></g><clipPath id="c41"><ellipse cx="303" cy="862" rx="48" ry="27" transform="rotate(55 303 862)"/></clipPath><ellipse class="t" cx="303" cy="862" rx="48" ry="27" transform="rotate(55 303 862)"/><g clip-path="url(#c41)"><ellipse class="t" cx="315" cy="858" rx="48" ry="27" transform="rotate(55 315 858)"/></g><clipPath id="c42"><ellipse cx="628" cy="1049" rx="48" ry="27" transform="rotate(55 628 1049)"/></clipPath><ellipse class="t" cx="628" cy="1049" rx="48" ry="27" transform="rotate(55 628 1049)"/><g clip-path="url(#c42)"><ellipse class="t" cx="640" cy="1045" rx="48" ry="27" transform="rotate(55 640 1045)"/></g><clipPath id="c43"><ellipse cx="1005" cy="912" rx="48" ry="27" transform="rotate(55 1005 912)"/></clipPath><ellipse class="t" cx="1005" cy="912" rx="48" ry="27" transform="rotate(55 1005 912)"/><g clip-path="url(#c43)"><ellipse class="t" cx="1017" cy="908" rx="48" ry="27" transform="rotate(55 1017 908)"/></g><clipPath id="c44"><ellipse cx="932" cy="1274" rx="48" ry="27" transform="rotate(55 932 1274)"/></clipPath><ellipse class="t" cx="932" cy="1274" rx="48" ry="27" transform="rotate(55 932 1274)"/><g clip-path="url(#c44)"><ellipse class="t" cx="944" cy="1270" rx="48" ry="27" transform="rotate(55 944 1270)"/></g></g><g transform="translate(310.2,528.5) scale(0.16989)" style="stroke-width:5.89"><path class="t" d="M196.5,42.55 l-12,-5"/><path class="t" d="M208,52 l-12,-5"/><path class="t" d="M301.36,37.22 l-12,-5"/><path class="t" d="M107.59,710.44 l-12,-5"/><g transform="translate(-12,-5)"><path class="w" d="M85,185C87.5,155 90,138.33 95,120C100,101.67 107.5,86.67 115,75C122.5,63.33 130.83,55.83 140,50C149.17,44.17 160.83,41.33 170,40C179.17,38.67 188.67,40 195,42C201.33,44 203.67,48.67 208,52C213.67,48 216.33,43.33 225,40C233.67,36.67 248.33,32.83 260,32C271.67,31.17 285.83,32.33 295,35C304.17,37.67 310.5,41.33 315,48C319.5,54.67 320.33,49.67 322,75C323.67,100.33 324.5,145.83 325,200C325.5,254.17 325.5,350 325,400C324.5,450 323.67,480 322,500C320.33,520 318.67,513.33 315,520C311.33,526.67 309.17,532.5 300,540C290.83,547.5 274.17,556.67 260,565C245.83,573.33 226.67,582.5 215,590C203.33,597.5 196.67,601.67 190,610C183.33,618.33 179.17,630 175,640C170.83,650 170.83,660 165,670C159.17,680 148.33,693 140,700C131.67,707 122.5,712 115,712C107.5,712 100,707 95,700C90,693 87.5,703.33 85,670C82.5,636.67 80.83,561.67 80,500C79.17,438.33 79.17,352.5 80,300C80.83,247.5 82.5,215 85,185Z"/></g><path class="w" d="M85,185C87.5,155 90,138.33 95,120C100,101.67 107.5,86.67 115,75C122.5,63.33 130.83,55.83 140,50C149.17,44.17 160.83,41.33 170,40C179.17,38.67 188.67,40 195,42C201.33,44 203.67,48.67 208,52C213.67,48 216.33,43.33 225,40C233.67,36.67 248.33,32.83 260,32C271.67,31.17 285.83,32.33 295,35C304.17,37.67 310.5,41.33 315,48C319.5,54.67 320.33,49.67 322,75C323.67,100.33 324.5,145.83 325,200C325.5,254.17 325.5,350 325,400C324.5,450 323.67,480 322,500C320.33,520 318.67,513.33 315,520C311.33,526.67 309.17,532.5 300,540C290.83,547.5 274.17,556.67 260,565C245.83,573.33 226.67,582.5 215,590C203.33,597.5 196.67,601.67 190,610C183.33,618.33 179.17,630 175,640C170.83,650 170.83,660 165,670C159.17,680 148.33,693 140,700C131.67,707 122.5,712 115,712C107.5,712 100,707 95,700C90,693 87.5,703.33 85,670C82.5,636.67 80.83,561.67 80,500C79.17,438.33 79.17,352.5 80,300C80.83,247.5 82.5,215 85,185Z"/><clipPath id="c45"><path d="M120,230C123.33,220.83 128.33,212.5 135,205C141.67,197.5 151.67,191.67 160,185C191.67,166.67 223.33,148.33 255,130C260,129 265.83,126.17 270,127C274.17,127.83 277.5,129.5 280,135C282.5,140.5 283.33,132.5 285,160C286.67,187.5 289.17,256.67 290,300C290.83,343.33 290.83,394.17 290,420C289.17,445.83 288.33,443.33 285,455C281.67,466.67 273.33,480 270,490C266.67,500 266.67,506.67 265,515C256.67,521.67 257.5,523.33 240,535C222.5,546.67 186.67,568.33 160,585C151.67,587.33 141.33,592.83 135,592C128.67,591.17 124.83,587 122,580C119.17,573 119.17,580 118,550C116.83,520 115.5,448.33 115,400C114.5,351.67 114.17,288.33 115,260C115.83,231.67 116.67,239.17 120,230Z"/></clipPath><path class="w" d="M120,230C123.33,220.83 128.33,212.5 135,205C141.67,197.5 151.67,191.67 160,185C191.67,166.67 223.33,148.33 255,130C260,129 265.83,126.17 270,127C274.17,127.83 277.5,129.5 280,135C282.5,140.5 283.33,132.5 285,160C286.67,187.5 289.17,256.67 290,300C290.83,343.33 290.83,394.17 290,420C289.17,445.83 288.33,443.33 285,455C281.67,466.67 273.33,480 270,490C266.67,500 266.67,506.67 265,515C256.67,521.67 257.5,523.33 240,535C222.5,546.67 186.67,568.33 160,585C151.67,587.33 141.33,592.83 135,592C128.67,591.17 124.83,587 122,580C119.17,573 119.17,580 118,550C116.83,520 115.5,448.33 115,400C114.5,351.67 114.17,288.33 115,260C115.83,231.67 116.67,239.17 120,230Z"/><g clip-path="url(#c45)"><g transform="translate(-12,-5)"><path class="t" d="M120,230C123.33,220.83 128.33,212.5 135,205C141.67,197.5 151.67,191.67 160,185C191.67,166.67 223.33,148.33 255,130C260,129 265.83,126.17 270,127C274.17,127.83 277.5,129.5 280,135C282.5,140.5 283.33,132.5 285,160C286.67,187.5 289.17,256.67 290,300C290.83,343.33 290.83,394.17 290,420C289.17,445.83 288.33,443.33 285,455C281.67,466.67 273.33,480 270,490C266.67,500 266.67,506.67 265,515C256.67,521.67 257.5,523.33 240,535C222.5,546.67 186.67,568.33 160,585C151.67,587.33 141.33,592.83 135,592C128.67,591.17 124.83,587 122,580C119.17,573 119.17,580 118,550C116.83,520 115.5,448.33 115,400C114.5,351.67 114.17,288.33 115,260C115.83,231.67 116.67,239.17 120,230Z"/></g></g><clipPath id="c46"><ellipse cx="155" cy="105" rx="18" ry="36" transform="rotate(25 155 105)"/></clipPath><ellipse class="t" cx="155" cy="105" rx="18" ry="36" transform="rotate(25 155 105)"/><g clip-path="url(#c46)"><ellipse class="t" cx="150" cy="103" rx="18" ry="36" transform="rotate(25 150 103)"/></g><clipPath id="c47"><ellipse cx="243" cy="83" rx="16" ry="28" transform="rotate(30 243 83)"/></clipPath><ellipse class="t" cx="243" cy="83" rx="16" ry="28" transform="rotate(30 243 83)"/><g clip-path="url(#c47)"><ellipse class="t" cx="238" cy="81" rx="16" ry="28" transform="rotate(30 238 81)"/></g><clipPath id="c48"><ellipse cx="133" cy="662" rx="17" ry="31" transform="rotate(30 133 662)"/></clipPath><ellipse class="t" cx="133" cy="662" rx="17" ry="31" transform="rotate(30 133 662)"/><g clip-path="url(#c48)"><ellipse class="t" cx="128" cy="660" rx="17" ry="31" transform="rotate(30 128 660)"/></g><path class="t" d="M262,505C266.33,506 270.33,505.5 275,508C279.67,510.5 289.17,517.17 290,520C290.83,522.83 283.67,525.33 280,525C276.33,524.67 272,520.33 268,518"/><path class="t" d="M128,592C124.67,596.33 120.5,600.67 118,605C115.5,609.33 112.67,616.33 113,618C113.33,619.67 117.17,618.33 120,615C122.83,611.67 126.67,603.67 130,598"/></g><g transform="translate(436.3,520.4) scale(0.10650)" style="stroke-width:9.39"><path class="t" d="M514.8,21.45 l-5.5,-4"/><path class="t" d="M522.5,76.8 l-5.5,-4"/><path class="t" d="M558.78,99.66 l-5.5,-4"/><path class="t" d="M532.5,346.8 l-5.5,-4"/><path class="t" d="M562.5,356.8 l-5.5,-4"/><path class="t" d="M190.3,679.5 l-5.5,-4"/><path class="t" d="M198.03,673.66 l-5.5,-4"/><path class="t" d="M197.5,673.8 l-5.5,-4"/><path class="t" d="M192.5,616.8 l-5.5,-4"/><path class="t" d="M80.94,625.11 l-5.5,-4"/><path class="t" d="M200.62,228.05 l-5.5,-4"/><path class="t" d="M208.45,234.07 l-5.5,-4"/><path class="t" d="M344.78,120.92 l-5.5,-4"/><path class="t" d="M347.5,133.8 l-5.5,-4"/><g transform="translate(-5.5,-4)"><path class="w" d="M472.5,31.8C481.67,22.63 490,18.13 497.5,16.8C505,15.47 512.5,18.8 517.5,23.8C522.5,28.8 526.67,37.97 527.5,46.8C528.33,55.63 524.17,66.8 522.5,76.8C530.83,81.8 539.17,85.63 547.5,91.8C555.83,97.97 567,103.8 572.5,113.8C578,123.8 580.5,139.63 580.5,151.8C580.5,163.97 576.83,177.13 572.5,186.8C568.17,196.47 558.67,198.97 554.5,209.8C550.33,220.63 550.33,233.13 547.5,251.8C544.67,270.47 540,305.97 537.5,321.8C535,337.63 534.17,338.47 532.5,346.8C542.5,350.13 554.17,350.13 562.5,356.8C570.83,363.47 580,375.97 582.5,386.8C585,397.63 582.5,412.63 577.5,421.8C572.5,430.97 560.83,437.63 552.5,441.8C544.17,445.97 535.83,444.3 527.5,446.8C519.17,449.3 511.67,450.97 502.5,456.8C493.33,462.63 480.83,470.97 472.5,481.8C464.17,492.63 459.17,508.47 452.5,521.8C372.5,570.13 255,641.47 212.5,666.8C170,692.13 202.5,671.47 197.5,673.8C195.83,654.8 194.17,635.8 192.5,616.8C185.83,615.13 182.5,609.3 172.5,611.8C162.5,614.3 145,628.13 132.5,631.8C120,635.47 108.33,637.13 97.5,633.8C86.67,630.47 74.17,621.3 67.5,611.8C60.83,602.3 56.67,590.13 57.5,576.8C58.33,563.47 65,549.3 72.5,531.8C80,514.3 92.5,493.47 102.5,471.8C112.5,450.13 124.17,422.63 132.5,401.8C140.83,380.97 145.83,365.13 152.5,346.8C144.17,338.47 133.33,332.63 127.5,321.8C121.67,310.97 117.5,294.3 117.5,281.8C117.5,269.3 121.67,255.97 127.5,246.8C133.33,237.63 142.5,230.97 152.5,226.8C162.5,222.63 177.5,220.13 187.5,221.8C197.5,223.47 204.17,231.8 212.5,236.8C219.17,228.47 220,225.97 232.5,211.8C245,197.63 274.17,165.97 287.5,151.8C300.83,137.63 303.33,132.13 312.5,126.8C321.67,121.47 336.67,118.63 342.5,119.8C348.33,120.97 345.83,129.13 347.5,133.8C372.5,124.8 406.67,117.13 422.5,106.8C438.33,96.47 434.17,84.3 442.5,71.8C450.83,59.3 463.33,40.97 472.5,31.8Z"/></g><path class="w" d="M472.5,31.8C481.67,22.63 490,18.13 497.5,16.8C505,15.47 512.5,18.8 517.5,23.8C522.5,28.8 526.67,37.97 527.5,46.8C528.33,55.63 524.17,66.8 522.5,76.8C530.83,81.8 539.17,85.63 547.5,91.8C555.83,97.97 567,103.8 572.5,113.8C578,123.8 580.5,139.63 580.5,151.8C580.5,163.97 576.83,177.13 572.5,186.8C568.17,196.47 558.67,198.97 554.5,209.8C550.33,220.63 550.33,233.13 547.5,251.8C544.67,270.47 540,305.97 537.5,321.8C535,337.63 534.17,338.47 532.5,346.8C542.5,350.13 554.17,350.13 562.5,356.8C570.83,363.47 580,375.97 582.5,386.8C585,397.63 582.5,412.63 577.5,421.8C572.5,430.97 560.83,437.63 552.5,441.8C544.17,445.97 535.83,444.3 527.5,446.8C519.17,449.3 511.67,450.97 502.5,456.8C493.33,462.63 480.83,470.97 472.5,481.8C464.17,492.63 459.17,508.47 452.5,521.8C372.5,570.13 255,641.47 212.5,666.8C170,692.13 202.5,671.47 197.5,673.8C195.83,654.8 194.17,635.8 192.5,616.8C185.83,615.13 182.5,609.3 172.5,611.8C162.5,614.3 145,628.13 132.5,631.8C120,635.47 108.33,637.13 97.5,633.8C86.67,630.47 74.17,621.3 67.5,611.8C60.83,602.3 56.67,590.13 57.5,576.8C58.33,563.47 65,549.3 72.5,531.8C80,514.3 92.5,493.47 102.5,471.8C112.5,450.13 124.17,422.63 132.5,401.8C140.83,380.97 145.83,365.13 152.5,346.8C144.17,338.47 133.33,332.63 127.5,321.8C121.67,310.97 117.5,294.3 117.5,281.8C117.5,269.3 121.67,255.97 127.5,246.8C133.33,237.63 142.5,230.97 152.5,226.8C162.5,222.63 177.5,220.13 187.5,221.8C197.5,223.47 204.17,231.8 212.5,236.8C219.17,228.47 220,225.97 232.5,211.8C245,197.63 274.17,165.97 287.5,151.8C300.83,137.63 303.33,132.13 312.5,126.8C321.67,121.47 336.67,118.63 342.5,119.8C348.33,120.97 345.83,129.13 347.5,133.8C372.5,124.8 406.67,117.13 422.5,106.8C438.33,96.47 434.17,84.3 442.5,71.8C450.83,59.3 463.33,40.97 472.5,31.8Z"/><clipPath id="c49"><path d="M341,165.7C357.67,162.37 383.5,161.53 401,165.7C418.5,169.87 434.67,178.2 446,190.7C457.33,203.2 464.83,219.03 469,240.7C473.17,262.37 474,297.37 471,320.7C468,344.03 461,360.7 451,380.7C441,400.7 421,426.53 411,440.7C401,454.87 397.67,457.37 391,465.7C342.67,494.03 294.33,522.37 246,550.7C236,549.03 226,552.37 216,545.7C206,539.03 193.17,526.53 186,510.7C178.83,494.87 174.67,472.37 173,450.7C171.33,429.03 171.33,404.03 176,380.7C180.67,357.37 188.5,335.7 201,310.7C213.5,285.7 234.33,251.53 251,230.7C267.67,209.87 286,196.53 301,185.7C316,174.87 324.33,169.03 341,165.7Z"/></clipPath><path class="w" d="M341,165.7C357.67,162.37 383.5,161.53 401,165.7C418.5,169.87 434.67,178.2 446,190.7C457.33,203.2 464.83,219.03 469,240.7C473.17,262.37 474,297.37 471,320.7C468,344.03 461,360.7 451,380.7C441,400.7 421,426.53 411,440.7C401,454.87 397.67,457.37 391,465.7C342.67,494.03 294.33,522.37 246,550.7C236,549.03 226,552.37 216,545.7C206,539.03 193.17,526.53 186,510.7C178.83,494.87 174.67,472.37 173,450.7C171.33,429.03 171.33,404.03 176,380.7C180.67,357.37 188.5,335.7 201,310.7C213.5,285.7 234.33,251.53 251,230.7C267.67,209.87 286,196.53 301,185.7C316,174.87 324.33,169.03 341,165.7Z"/><g clip-path="url(#c49)"><g transform="translate(-5.5,-4)"><path class="t" d="M341,165.7C357.67,162.37 383.5,161.53 401,165.7C418.5,169.87 434.67,178.2 446,190.7C457.33,203.2 464.83,219.03 469,240.7C473.17,262.37 474,297.37 471,320.7C468,344.03 461,360.7 451,380.7C441,400.7 421,426.53 411,440.7C401,454.87 397.67,457.37 391,465.7C342.67,494.03 294.33,522.37 246,550.7C236,549.03 226,552.37 216,545.7C206,539.03 193.17,526.53 186,510.7C178.83,494.87 174.67,472.37 173,450.7C171.33,429.03 171.33,404.03 176,380.7C180.67,357.37 188.5,335.7 201,310.7C213.5,285.7 234.33,251.53 251,230.7C267.67,209.87 286,196.53 301,185.7C316,174.87 324.33,169.03 341,165.7Z"/></g></g><clipPath id="c50"><ellipse cx="515" cy="165" rx="27" ry="48" transform="rotate(25 515 165)"/></clipPath><ellipse class="t" cx="515" cy="165" rx="27" ry="48" transform="rotate(25 515 165)"/><g clip-path="url(#c50)"><ellipse class="t" cx="510" cy="162" rx="27" ry="48" transform="rotate(25 510 162)"/></g><clipPath id="c51"><ellipse cx="508" cy="265" rx="10" ry="27" transform="rotate(15 508 265)"/></clipPath><ellipse class="t" cx="508" cy="265" rx="10" ry="27" transform="rotate(15 508 265)"/><g clip-path="url(#c51)"><ellipse class="t" cx="504" cy="263" rx="10" ry="27" transform="rotate(15 504 263)"/></g><clipPath id="c52"><ellipse cx="125" cy="555" rx="29" ry="46" transform="rotate(35 125 555)"/></clipPath><ellipse class="t" cx="125" cy="555" rx="29" ry="46" transform="rotate(35 125 555)"/><g clip-path="url(#c52)"><ellipse class="t" cx="120" cy="552" rx="29" ry="46" transform="rotate(35 120 552)"/></g><ellipse class="t" cx="490" cy="68" rx="9" ry="10.8" transform="rotate(20 490 68)"/><ellipse class="t" cx="162" cy="270" rx="9" ry="10.8" transform="rotate(20 162 270)"/><ellipse class="t" cx="540" cy="412" rx="9" ry="10.8" transform="rotate(20 540 412)"/><ellipse class="t" cx="300" cy="142" rx="7" ry="8.4" transform="rotate(20 300 142)"/></g><ellipse class="t" cx="610.6" cy="559.5" rx="71.3" ry="41.3"/><path class="t" d="M539.3,559.5 L539.3,563.5 A71.3,41.3 0 0 0 610.6,604.8 A71.3,41.3 0 0 0 681.9,563.5 L681.9,559.5"/><ellipse class="t" cx="610.6" cy="559.5" rx="63.2" ry="36.4"/><path class="t" d="M547.5,561.5 A63.2,36.4 0 0 1 673.7,561.5"/><ellipse class="t" cx="490" cy="642.4" rx="49" ry="31.3" transform="rotate(62 490 642.4)"/><ellipse class="t" cx="489.6" cy="642.4" rx="40.25" ry="24.2" transform="rotate(62 489.6 642.4)"/><path class="t" d="M460.35,615.93 L461.6,612.95 L463.16,610.31 L465,608.01 L467.12,606.09 L469.48,604.57 L472.07,603.46 L474.84,602.78"/><path class="t" d="M507.58,681.19 L504.36,682.02 L500.92,682.27 L497.31,681.92 L493.58,680.98 L489.8,679.47"/><ellipse class="t" cx="634.6" cy="628.5" rx="14.4" ry="8.6"/><path class="t" d="M620.2,628.5 L620.2,633.2 A14.4,8.6 0 0 0 634.6,641.8 A14.4,8.6 0 0 0 649,633.2 L649,628.5"/><ellipse class="t" cx="634.6" cy="628" rx="8" ry="4.7"/><ellipse class="t" cx="655.4" cy="668.1" rx="21.3" ry="12.4"/><path class="t" d="M634.1,668.1 L634.1,671.5 A21.3,12.4 0 0 0 655.4,683.9 A21.3,12.4 0 0 0 676.7,671.5 L676.7,668.1"/><ellipse class="t" cx="655.4" cy="667.7" rx="13" ry="7.7"/><g transform="translate(775,488) scale(0.11136)" style="stroke-width:8.98"><ellipse class="t" cx="166" cy="90" rx="101" ry="60"/><path class="t" d="M65,90 L65,125 A101,60 0 0 0 166,185 A101,60 0 0 0 267,125 L267,90"/><ellipse class="t" cx="166" cy="90" rx="76" ry="43"/><ellipse class="t" cx="166" cy="90" rx="86" ry="50"/><ellipse class="t" cx="166" cy="90" rx="52" ry="29"/><ellipse class="t" cx="166" cy="92" rx="22" ry="12"/><path class="t" d="M237.42,110.71 L234.26,114.91 L230.33,118.9 L225.68,122.63 L220.35,126.06 L214.41,129.15 L207.92,131.87 L200.96,134.18 L193.61,136.06 L185.95,137.49 L178.06,138.46 L170.04,138.94 L161.96,138.94 L153.94,138.46 L146.05,137.49 L138.39,136.06 L131.04,134.18 L124.08,131.87 L117.59,129.15 L111.65,126.06 L106.32,122.63 L101.67,118.9 L97.74,114.91 L94.58,110.71"/><path class="t" d="M231.82,122.5 L227.49,126.27 L222.48,129.77 L216.85,132.96 L210.67,135.79 L204,138.24 L196.91,140.28 L189.49,141.9 L181.8,143.06 L173.94,143.76 L166,144 L158.06,143.76 L150.2,143.06 L142.51,141.9 L135.09,140.28 L128,138.24 L121.33,135.79 L115.15,132.96 L109.52,129.77 L104.51,126.27 L100.18,122.5"/><path class="t" d="M221.16,131.71 L215.79,134.89 L209.83,137.73 L203.35,140.2 L196.43,142.25 L189.14,143.88 L181.58,145.05 L173.84,145.76 L166,146 L158.16,145.76 L150.42,145.05 L142.86,143.88 L135.57,142.25 L128.65,140.2 L122.17,137.73 L116.21,134.89 L110.84,131.71"/><path class="t" d="M110,347 C118,318 140,285 160,268 C180,285 204,318 212,347"/><path class="t" d="M108,345 C110,372 135,386 160,386 C185,386 210,372 212,345"/><path class="t" d="M160,268 C150,268 150,274 155,276"/><path class="t" d="M110,366 L90,385 L160,430 L240,390 L212,368"/><path class="t" d="M90,385 L90,555 L160,600 L240,555 L240,390"/><path class="t" d="M160,430 L160,600"/><path class="t" d="M132,584 L132,600 M188,584 L188,600"/><ellipse class="t" cx="160" cy="617" rx="51" ry="25"/><path class="t" d="M109,617 L109,655 A51,25 0 0 0 211,655 L211,617"/><path class="t" d="M188,604 L187.85,605.25 L187.39,606.49 L186.63,607.71 L185.58,608.88 L184.25,610 L182.65,611.05 L180.81,612.03 L178.74,612.92 L176.46,613.71 L174,614.39 L171.39,614.96 L168.65,615.41 L165.82,615.74 L162.93,615.93 L160,616 L157.07,615.93 L154.18,615.74 L151.35,615.41 L148.61,614.96 L146,614.39 L143.54,613.71 L141.26,612.92 L139.19,612.03 L137.35,611.05 L135.75,610 L134.42,608.88 L133.37,607.71 L132.61,606.49 L132.15,605.25 L132,604"/></g><ellipse class="t" cx="930.4" cy="535.8" rx="49" ry="31.3" transform="rotate(62 930.4 535.8)"/><ellipse class="t" cx="930" cy="535.8" rx="40.25" ry="24.2" transform="rotate(62 930 535.8)"/><path class="t" d="M900.75,509.33 L902,506.35 L903.56,503.71 L905.4,501.41 L907.52,499.49 L909.88,497.97 L912.47,496.86 L915.24,496.18"/><path class="t" d="M947.98,574.59 L944.76,575.42 L941.32,575.67 L937.71,575.32 L933.98,574.38 L930.2,572.87"/><path class="t" d="M1056.46,497.06 L1100.36,522.26 M1060.54,489.94 L1104.44,515.14"/><ellipse class="t" cx="1102.4" cy="518.7" rx="2.4" ry="4.1" transform="rotate(29.86 1102.4 518.7)"/><path class="t" d="M1056.46,497.06 L1056.25,496.91 L1056.07,496.73 L1055.92,496.51 L1055.79,496.26 L1055.69,495.98 L1055.63,495.67 L1055.59,495.34 L1055.59,494.99 L1055.62,494.62 L1055.68,494.24 L1055.77,493.85 L1055.89,493.46 L1056.04,493.07 L1056.22,492.68 L1056.42,492.31 L1056.64,491.94 L1056.89,491.59 L1057.15,491.26 L1057.43,490.96 L1057.72,490.69 L1058.02,490.44 L1058.32,490.23 L1058.62,490.06 L1058.93,489.92 L1059.23,489.82 L1059.52,489.77 L1059.8,489.75 L1060.06,489.77 L1060.31,489.84 L1060.54,489.94"/><g transform="translate(1012.9,515.8) scale(0.10650)" style="stroke-width:9.39"><path class="t" d="M514.8,21.45 l-5.5,-4"/><path class="t" d="M522.5,76.8 l-5.5,-4"/><path class="t" d="M558.78,99.66 l-5.5,-4"/><path class="t" d="M532.5,346.8 l-5.5,-4"/><path class="t" d="M562.5,356.8 l-5.5,-4"/><path class="t" d="M190.3,679.5 l-5.5,-4"/><path class="t" d="M198.03,673.66 l-5.5,-4"/><path class="t" d="M197.5,673.8 l-5.5,-4"/><path class="t" d="M192.5,616.8 l-5.5,-4"/><path class="t" d="M80.94,625.11 l-5.5,-4"/><path class="t" d="M200.62,228.05 l-5.5,-4"/><path class="t" d="M208.45,234.07 l-5.5,-4"/><path class="t" d="M344.78,120.92 l-5.5,-4"/><path class="t" d="M347.5,133.8 l-5.5,-4"/><g transform="translate(-5.5,-4)"><path class="w" d="M472.5,31.8C481.67,22.63 490,18.13 497.5,16.8C505,15.47 512.5,18.8 517.5,23.8C522.5,28.8 526.67,37.97 527.5,46.8C528.33,55.63 524.17,66.8 522.5,76.8C530.83,81.8 539.17,85.63 547.5,91.8C555.83,97.97 567,103.8 572.5,113.8C578,123.8 580.5,139.63 580.5,151.8C580.5,163.97 576.83,177.13 572.5,186.8C568.17,196.47 558.67,198.97 554.5,209.8C550.33,220.63 550.33,233.13 547.5,251.8C544.67,270.47 540,305.97 537.5,321.8C535,337.63 534.17,338.47 532.5,346.8C542.5,350.13 554.17,350.13 562.5,356.8C570.83,363.47 580,375.97 582.5,386.8C585,397.63 582.5,412.63 577.5,421.8C572.5,430.97 560.83,437.63 552.5,441.8C544.17,445.97 535.83,444.3 527.5,446.8C519.17,449.3 511.67,450.97 502.5,456.8C493.33,462.63 480.83,470.97 472.5,481.8C464.17,492.63 459.17,508.47 452.5,521.8C372.5,570.13 255,641.47 212.5,666.8C170,692.13 202.5,671.47 197.5,673.8C195.83,654.8 194.17,635.8 192.5,616.8C185.83,615.13 182.5,609.3 172.5,611.8C162.5,614.3 145,628.13 132.5,631.8C120,635.47 108.33,637.13 97.5,633.8C86.67,630.47 74.17,621.3 67.5,611.8C60.83,602.3 56.67,590.13 57.5,576.8C58.33,563.47 65,549.3 72.5,531.8C80,514.3 92.5,493.47 102.5,471.8C112.5,450.13 124.17,422.63 132.5,401.8C140.83,380.97 145.83,365.13 152.5,346.8C144.17,338.47 133.33,332.63 127.5,321.8C121.67,310.97 117.5,294.3 117.5,281.8C117.5,269.3 121.67,255.97 127.5,246.8C133.33,237.63 142.5,230.97 152.5,226.8C162.5,222.63 177.5,220.13 187.5,221.8C197.5,223.47 204.17,231.8 212.5,236.8C219.17,228.47 220,225.97 232.5,211.8C245,197.63 274.17,165.97 287.5,151.8C300.83,137.63 303.33,132.13 312.5,126.8C321.67,121.47 336.67,118.63 342.5,119.8C348.33,120.97 345.83,129.13 347.5,133.8C372.5,124.8 406.67,117.13 422.5,106.8C438.33,96.47 434.17,84.3 442.5,71.8C450.83,59.3 463.33,40.97 472.5,31.8Z"/></g><path class="w" d="M472.5,31.8C481.67,22.63 490,18.13 497.5,16.8C505,15.47 512.5,18.8 517.5,23.8C522.5,28.8 526.67,37.97 527.5,46.8C528.33,55.63 524.17,66.8 522.5,76.8C530.83,81.8 539.17,85.63 547.5,91.8C555.83,97.97 567,103.8 572.5,113.8C578,123.8 580.5,139.63 580.5,151.8C580.5,163.97 576.83,177.13 572.5,186.8C568.17,196.47 558.67,198.97 554.5,209.8C550.33,220.63 550.33,233.13 547.5,251.8C544.67,270.47 540,305.97 537.5,321.8C535,337.63 534.17,338.47 532.5,346.8C542.5,350.13 554.17,350.13 562.5,356.8C570.83,363.47 580,375.97 582.5,386.8C585,397.63 582.5,412.63 577.5,421.8C572.5,430.97 560.83,437.63 552.5,441.8C544.17,445.97 535.83,444.3 527.5,446.8C519.17,449.3 511.67,450.97 502.5,456.8C493.33,462.63 480.83,470.97 472.5,481.8C464.17,492.63 459.17,508.47 452.5,521.8C372.5,570.13 255,641.47 212.5,666.8C170,692.13 202.5,671.47 197.5,673.8C195.83,654.8 194.17,635.8 192.5,616.8C185.83,615.13 182.5,609.3 172.5,611.8C162.5,614.3 145,628.13 132.5,631.8C120,635.47 108.33,637.13 97.5,633.8C86.67,630.47 74.17,621.3 67.5,611.8C60.83,602.3 56.67,590.13 57.5,576.8C58.33,563.47 65,549.3 72.5,531.8C80,514.3 92.5,493.47 102.5,471.8C112.5,450.13 124.17,422.63 132.5,401.8C140.83,380.97 145.83,365.13 152.5,346.8C144.17,338.47 133.33,332.63 127.5,321.8C121.67,310.97 117.5,294.3 117.5,281.8C117.5,269.3 121.67,255.97 127.5,246.8C133.33,237.63 142.5,230.97 152.5,226.8C162.5,222.63 177.5,220.13 187.5,221.8C197.5,223.47 204.17,231.8 212.5,236.8C219.17,228.47 220,225.97 232.5,211.8C245,197.63 274.17,165.97 287.5,151.8C300.83,137.63 303.33,132.13 312.5,126.8C321.67,121.47 336.67,118.63 342.5,119.8C348.33,120.97 345.83,129.13 347.5,133.8C372.5,124.8 406.67,117.13 422.5,106.8C438.33,96.47 434.17,84.3 442.5,71.8C450.83,59.3 463.33,40.97 472.5,31.8Z"/><clipPath id="c53"><path d="M341,165.7C357.67,162.37 383.5,161.53 401,165.7C418.5,169.87 434.67,178.2 446,190.7C457.33,203.2 464.83,219.03 469,240.7C473.17,262.37 474,297.37 471,320.7C468,344.03 461,360.7 451,380.7C441,400.7 421,426.53 411,440.7C401,454.87 397.67,457.37 391,465.7C342.67,494.03 294.33,522.37 246,550.7C236,549.03 226,552.37 216,545.7C206,539.03 193.17,526.53 186,510.7C178.83,494.87 174.67,472.37 173,450.7C171.33,429.03 171.33,404.03 176,380.7C180.67,357.37 188.5,335.7 201,310.7C213.5,285.7 234.33,251.53 251,230.7C267.67,209.87 286,196.53 301,185.7C316,174.87 324.33,169.03 341,165.7Z"/></clipPath><path class="w" d="M341,165.7C357.67,162.37 383.5,161.53 401,165.7C418.5,169.87 434.67,178.2 446,190.7C457.33,203.2 464.83,219.03 469,240.7C473.17,262.37 474,297.37 471,320.7C468,344.03 461,360.7 451,380.7C441,400.7 421,426.53 411,440.7C401,454.87 397.67,457.37 391,465.7C342.67,494.03 294.33,522.37 246,550.7C236,549.03 226,552.37 216,545.7C206,539.03 193.17,526.53 186,510.7C178.83,494.87 174.67,472.37 173,450.7C171.33,429.03 171.33,404.03 176,380.7C180.67,357.37 188.5,335.7 201,310.7C213.5,285.7 234.33,251.53 251,230.7C267.67,209.87 286,196.53 301,185.7C316,174.87 324.33,169.03 341,165.7Z"/><g clip-path="url(#c53)"><g transform="translate(-5.5,-4)"><path class="t" d="M341,165.7C357.67,162.37 383.5,161.53 401,165.7C418.5,169.87 434.67,178.2 446,190.7C457.33,203.2 464.83,219.03 469,240.7C473.17,262.37 474,297.37 471,320.7C468,344.03 461,360.7 451,380.7C441,400.7 421,426.53 411,440.7C401,454.87 397.67,457.37 391,465.7C342.67,494.03 294.33,522.37 246,550.7C236,549.03 226,552.37 216,545.7C206,539.03 193.17,526.53 186,510.7C178.83,494.87 174.67,472.37 173,450.7C171.33,429.03 171.33,404.03 176,380.7C180.67,357.37 188.5,335.7 201,310.7C213.5,285.7 234.33,251.53 251,230.7C267.67,209.87 286,196.53 301,185.7C316,174.87 324.33,169.03 341,165.7Z"/></g></g><clipPath id="c54"><ellipse cx="515" cy="165" rx="27" ry="48" transform="rotate(25 515 165)"/></clipPath><ellipse class="t" cx="515" cy="165" rx="27" ry="48" transform="rotate(25 515 165)"/><g clip-path="url(#c54)"><ellipse class="t" cx="510" cy="162" rx="27" ry="48" transform="rotate(25 510 162)"/></g><clipPath id="c55"><ellipse cx="508" cy="265" rx="10" ry="27" transform="rotate(15 508 265)"/></clipPath><ellipse class="t" cx="508" cy="265" rx="10" ry="27" transform="rotate(15 508 265)"/><g clip-path="url(#c55)"><ellipse class="t" cx="504" cy="263" rx="10" ry="27" transform="rotate(15 504 263)"/></g><clipPath id="c56"><ellipse cx="125" cy="555" rx="29" ry="46" transform="rotate(35 125 555)"/></clipPath><ellipse class="t" cx="125" cy="555" rx="29" ry="46" transform="rotate(35 125 555)"/><g clip-path="url(#c56)"><ellipse class="t" cx="120" cy="552" rx="29" ry="46" transform="rotate(35 120 552)"/></g><ellipse class="t" cx="490" cy="68" rx="9" ry="10.8" transform="rotate(20 490 68)"/><ellipse class="t" cx="162" cy="270" rx="9" ry="10.8" transform="rotate(20 162 270)"/><ellipse class="t" cx="540" cy="412" rx="9" ry="10.8" transform="rotate(20 540 412)"/><ellipse class="t" cx="300" cy="142" rx="7" ry="8.4" transform="rotate(20 300 142)"/></g><ellipse class="t" cx="803.4" cy="650.9" rx="71.5" ry="41.5"/><path class="t" d="M731.9,650.9 L731.9,654.9 A71.5,41.5 0 0 0 803.4,696.4 A71.5,41.5 0 0 0 874.9,654.9 L874.9,650.9"/><ellipse class="t" cx="803.4" cy="650.9" rx="63.4" ry="36.6"/><path class="t" d="M740.09,652.9 A63.4,36.6 0 0 1 866.71,652.9"/><ellipse class="t" cx="964.4" cy="618.9" rx="14.65" ry="9"/><path class="t" d="M949.75,618.9 L949.75,623.3 A14.65,9 0 0 0 964.4,632.3 A14.65,9 0 0 0 979.05,623.3 L979.05,618.9"/><ellipse class="t" cx="964.4" cy="618.3" rx="8" ry="5"/><ellipse class="t" cx="969.7" cy="664.4" rx="20.9" ry="12.3"/><path class="t" d="M948.8,664.4 L948.8,668.4 A20.9,12.3 0 0 0 969.7,680.7 A20.9,12.3 0 0 0 990.6,668.4 L990.6,664.4"/><ellipse class="t" cx="969.7" cy="664.4" rx="12.9" ry="7.7"/><path class="t" d="M1086.55,680.75 l4,-1.6"/><path class="t" d="M1069.15,650.05 l4,-1.6"/><g transform="translate(4,-1.6)"><path class="w" d="M1087.23,680.41C1086.59,680.81 1085.82,681.04 1085,681.09C1084.18,681.14 1083.24,681.01 1082.28,680.7C1081.33,680.4 1080.29,679.91 1079.27,679.27C1078.24,678.64 1077.17,677.82 1076.15,676.9C1075.13,675.98 1074.1,674.89 1073.15,673.74C1072.2,672.59 1071.28,671.31 1070.47,670.01C1069.66,668.72 1068.91,667.32 1068.3,665.97C1067.68,664.61 1067.15,663.21 1066.77,661.89C1066.39,660.57 1066.12,659.24 1066,658.05C1065.88,656.85 1065.89,655.7 1066.04,654.71C1066.18,653.71 1066.48,652.81 1066.88,652.09C1067.29,651.37 1067.83,650.79 1068.47,650.39C1069.11,649.99 1069.88,649.76 1070.7,649.71C1071.52,649.66 1072.46,649.79 1073.42,650.1C1074.37,650.4 1075.41,650.89 1076.43,651.53C1077.46,652.16 1078.53,652.98 1079.55,653.9C1080.57,654.82 1081.6,655.91 1082.55,657.06C1083.5,658.21 1084.42,659.49 1085.23,660.79C1086.04,662.08 1086.79,663.48 1087.4,664.83C1088.02,666.19 1088.55,667.59 1088.93,668.91C1089.31,670.23 1089.58,671.56 1089.7,672.75C1089.82,673.95 1089.81,675.1 1089.66,676.09C1089.52,677.09 1089.22,677.99 1088.82,678.71C1088.41,679.43 1087.87,680.01 1087.23,680.41Z"/></g><path class="w" d="M1087.23,680.41C1086.59,680.81 1085.82,681.04 1085,681.09C1084.18,681.14 1083.24,681.01 1082.28,680.7C1081.33,680.4 1080.29,679.91 1079.27,679.27C1078.24,678.64 1077.17,677.82 1076.15,676.9C1075.13,675.98 1074.1,674.89 1073.15,673.74C1072.2,672.59 1071.28,671.31 1070.47,670.01C1069.66,668.72 1068.91,667.32 1068.3,665.97C1067.68,664.61 1067.15,663.21 1066.77,661.89C1066.39,660.57 1066.12,659.24 1066,658.05C1065.88,656.85 1065.89,655.7 1066.04,654.71C1066.18,653.71 1066.48,652.81 1066.88,652.09C1067.29,651.37 1067.83,650.79 1068.47,650.39C1069.11,649.99 1069.88,649.76 1070.7,649.71C1071.52,649.66 1072.46,649.79 1073.42,650.1C1074.37,650.4 1075.41,650.89 1076.43,651.53C1077.46,652.16 1078.53,652.98 1079.55,653.9C1080.57,654.82 1081.6,655.91 1082.55,657.06C1083.5,658.21 1084.42,659.49 1085.23,660.79C1086.04,662.08 1086.79,663.48 1087.4,664.83C1088.02,666.19 1088.55,667.59 1088.93,668.91C1089.31,670.23 1089.58,671.56 1089.7,672.75C1089.82,673.95 1089.81,675.1 1089.66,676.09C1089.52,677.09 1089.22,677.99 1088.82,678.71C1088.41,679.43 1087.87,680.01 1087.23,680.41Z"/><path class="t" d="M1048.65,80.91 l-4.8,-2.8"/><path class="t" d="M1029.15,114.69 l-4.8,-2.8"/><g transform="translate(-4.8,-2.8)"><path class="w" d="M1048.65,80.91C1049.52,81.42 1050.31,82.14 1050.94,83C1051.57,83.87 1052.07,84.93 1052.41,86.1C1052.75,87.27 1052.94,88.61 1052.96,90C1052.98,91.38 1052.84,92.91 1052.55,94.42C1052.26,95.94 1051.8,97.54 1051.21,99.08C1050.62,100.62 1049.87,102.19 1049.03,103.65C1048.19,105.11 1047.2,106.54 1046.16,107.82C1045.13,109.1 1043.97,110.3 1042.8,111.31C1041.63,112.32 1040.38,113.2 1039.17,113.88C1037.96,114.55 1036.7,115.06 1035.52,115.35C1034.34,115.64 1033.17,115.74 1032.1,115.63C1031.04,115.52 1030.02,115.19 1029.15,114.69C1028.28,114.18 1027.49,113.46 1026.86,112.6C1026.23,111.73 1025.73,110.67 1025.39,109.5C1025.05,108.33 1024.86,106.99 1024.84,105.6C1024.82,104.22 1024.96,102.69 1025.25,101.18C1025.54,99.66 1026,98.06 1026.59,96.52C1027.18,94.98 1027.93,93.41 1028.77,91.95C1029.61,90.49 1030.6,89.06 1031.64,87.78C1032.67,86.5 1033.83,85.3 1035,84.29C1036.17,83.28 1037.42,82.4 1038.63,81.72C1039.84,81.05 1041.1,80.54 1042.28,80.25C1043.46,79.96 1044.63,79.86 1045.7,79.97C1046.76,80.08 1047.78,80.41 1048.65,80.91Z"/></g><path class="w" d="M1048.65,80.91C1049.52,81.42 1050.31,82.14 1050.94,83C1051.57,83.87 1052.07,84.93 1052.41,86.1C1052.75,87.27 1052.94,88.61 1052.96,90C1052.98,91.38 1052.84,92.91 1052.55,94.42C1052.26,95.94 1051.8,97.54 1051.21,99.08C1050.62,100.62 1049.87,102.19 1049.03,103.65C1048.19,105.11 1047.2,106.54 1046.16,107.82C1045.13,109.1 1043.97,110.3 1042.8,111.31C1041.63,112.32 1040.38,113.2 1039.17,113.88C1037.96,114.55 1036.7,115.06 1035.52,115.35C1034.34,115.64 1033.17,115.74 1032.1,115.63C1031.04,115.52 1030.02,115.19 1029.15,114.69C1028.28,114.18 1027.49,113.46 1026.86,112.6C1026.23,111.73 1025.73,110.67 1025.39,109.5C1025.05,108.33 1024.86,106.99 1024.84,105.6C1024.82,104.22 1024.96,102.69 1025.25,101.18C1025.54,99.66 1026,98.06 1026.59,96.52C1027.18,94.98 1027.93,93.41 1028.77,91.95C1029.61,90.49 1030.6,89.06 1031.64,87.78C1032.67,86.5 1033.83,85.3 1035,84.29C1036.17,83.28 1037.42,82.4 1038.63,81.72C1039.84,81.05 1041.1,80.54 1042.28,80.25C1043.46,79.96 1044.63,79.86 1045.7,79.97C1046.76,80.08 1047.78,80.41 1048.65,80.91Z"/><clipPath id="c57"><ellipse cx="1038.9" cy="97.8" rx="9.5" ry="5.8" transform="rotate(-60 1038.9 97.8)"/></clipPath><ellipse class="t" cx="1038.9" cy="97.8" rx="9.5" ry="5.8" transform="rotate(-60 1038.9 97.8)"/><g clip-path="url(#c57)"><ellipse class="t" cx="1036.9" cy="96.6" rx="9.5" ry="5.8" transform="rotate(-60 1036.9 96.6)"/></g></svg>
</body></html>
